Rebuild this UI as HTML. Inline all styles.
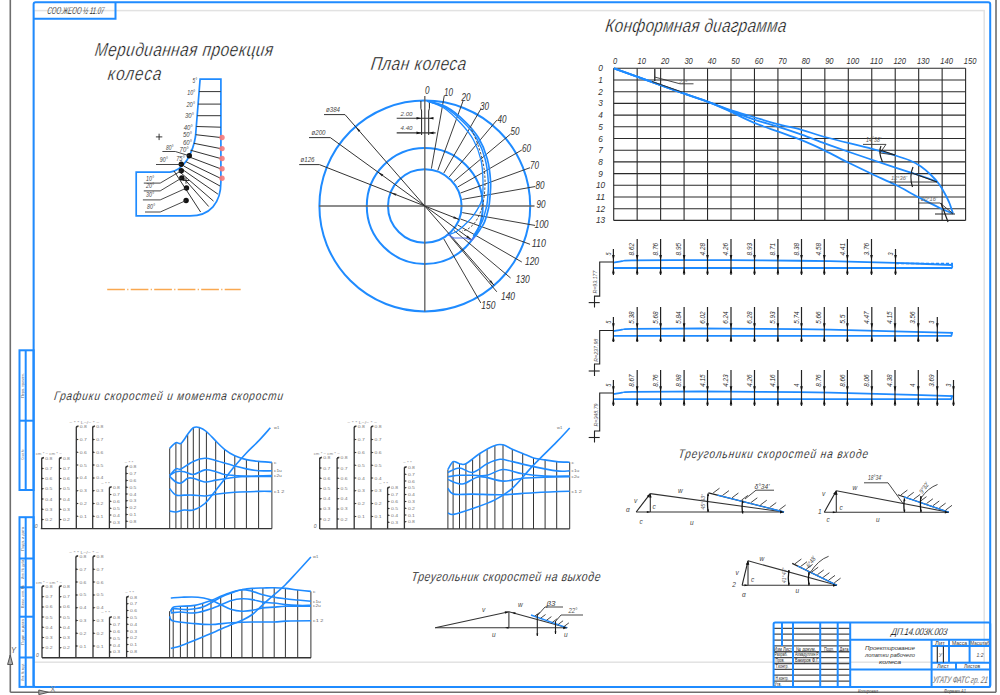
<!DOCTYPE html>
<html><head><meta charset="utf-8"><style>
html,body{margin:0;padding:0;background:#fff;width:1000px;height:695px;overflow:hidden}
svg{display:block}
text{font-family:"Liberation Sans",sans-serif}
</style></head><body>
<svg width="1000" height="695" viewBox="0 0 1000 695">
<rect x="0" y="0" width="1000" height="695" fill="#fff"/>
<line x1="10.30" y1="0.00" x2="10.30" y2="692.30" stroke="#6e6e6e" stroke-width="1.6" />
<line x1="10.30" y1="692.30" x2="996.00" y2="692.30" stroke="#6e6e6e" stroke-width="1.6" />
<line x1="996.00" y1="0.00" x2="996.00" y2="692.30" stroke="#6e6e6e" stroke-width="1.6" />
<rect x="34" y="10.6" width="950.2" height="651.6" fill="none" stroke="#e2e2e2" stroke-width="1.5"/>
<rect x="33.6" y="2.3" width="956.6" height="684.6" rx="2" fill="none" stroke="#1f8bff" stroke-width="2"/>
<path d="M33.6,18.7 L115.5,18.7 L115.5,2.3" stroke="#1f8bff" stroke-width="2" fill="none" />
<g transform="translate(47,13.6) skewX(-8) scale(0.8,1)"><text x="0" y="0" font-size="10" fill="#222" font-style="italic" text-anchor="start" textLength="71.2" lengthAdjust="spacingAndGlyphs" stroke="#fff" stroke-width="0.1" paint-order="normal">СОО.ЖЕОО ½ 11.07</text></g>
<rect x="19.5" y="350.3" width="14.1" height="139.7" fill="none" stroke="#1f8bff" stroke-width="2"/>
<line x1="25.70" y1="350.30" x2="25.70" y2="490.00" stroke="#1f8bff" stroke-width="2" />
<line x1="19.50" y1="420.70" x2="33.60" y2="420.70" stroke="#1f8bff" stroke-width="2" />
<rect x="19.5" y="517.2" width="14.1" height="169.69999999999993" fill="none" stroke="#1f8bff" stroke-width="2"/>
<line x1="25.70" y1="517.20" x2="25.70" y2="686.90" stroke="#1f8bff" stroke-width="2" />
<line x1="19.50" y1="558.50" x2="33.60" y2="558.50" stroke="#1f8bff" stroke-width="2" />
<line x1="19.50" y1="587.30" x2="33.60" y2="587.30" stroke="#1f8bff" stroke-width="2" />
<line x1="19.50" y1="616.70" x2="33.60" y2="616.70" stroke="#1f8bff" stroke-width="2" />
<line x1="19.50" y1="657.50" x2="33.60" y2="657.50" stroke="#1f8bff" stroke-width="2" />
<text x="22.6" y="385.5" font-size="4.2" fill="#567" text-anchor="middle" textLength="25" lengthAdjust="spacingAndGlyphs" transform="rotate(-90 22.6 385.5)" dominant-baseline="middle">Перв. примен.</text>
<text x="22.6" y="454.6" font-size="4.2" fill="#567" text-anchor="middle" textLength="10" lengthAdjust="spacingAndGlyphs" transform="rotate(-90 22.6 454.6)" dominant-baseline="middle">Справ. №</text>
<text x="22.6" y="539" font-size="4.2" fill="#567" text-anchor="middle" textLength="24" lengthAdjust="spacingAndGlyphs" transform="rotate(-90 22.6 539)" dominant-baseline="middle">Подп. и дата</text>
<text x="22.6" y="569" font-size="4.2" fill="#567" text-anchor="middle" textLength="20" lengthAdjust="spacingAndGlyphs" transform="rotate(-90 22.6 569)" dominant-baseline="middle">Инв. № дубл.</text>
<text x="22.6" y="596.5" font-size="4.2" fill="#567" text-anchor="middle" textLength="23" lengthAdjust="spacingAndGlyphs" transform="rotate(-90 22.6 596.5)" dominant-baseline="middle">Взам. инв. №</text>
<text x="22.6" y="632" font-size="4.2" fill="#567" text-anchor="middle" textLength="26" lengthAdjust="spacingAndGlyphs" transform="rotate(-90 22.6 632)" dominant-baseline="middle">Подп. и дата</text>
<text x="22.6" y="672" font-size="4.2" fill="#567" text-anchor="middle" textLength="18" lengthAdjust="spacingAndGlyphs" transform="rotate(-90 22.6 672)" dominant-baseline="middle">Инв. № подл.</text>
<path d="M7.6,664.5 L10.2,655 L12.8,664.5 Z" stroke="#555" stroke-width="1" fill="#aaa" />
<text x="11" y="652.7" font-size="8.5" fill="#555" text-anchor="start" font-style="italic" textLength="5" lengthAdjust="spacingAndGlyphs" >Y</text>
<path d="M38.8,690 L48.3,692.3 L38.8,694.6 Z" stroke="#555" stroke-width="1" fill="#aaa" />
<text x="49.9" y="691.5" font-size="8.5" fill="#888" text-anchor="start" textLength="5.5" lengthAdjust="spacingAndGlyphs" >X</text>
<line x1="773.60" y1="628.35" x2="850.20" y2="628.35" stroke="#4a4a4a" stroke-width="1.3" />
<line x1="773.60" y1="634.21" x2="850.20" y2="634.21" stroke="#4a4a4a" stroke-width="1.3" />
<line x1="773.60" y1="640.06" x2="850.20" y2="640.06" stroke="#4a4a4a" stroke-width="1.3" />
<line x1="773.60" y1="645.92" x2="850.20" y2="645.92" stroke="#4a4a4a" stroke-width="1.3" />
<line x1="773.60" y1="651.77" x2="850.20" y2="651.77" stroke="#4a4a4a" stroke-width="1.3" />
<line x1="773.60" y1="657.63" x2="850.20" y2="657.63" stroke="#4a4a4a" stroke-width="1.3" />
<line x1="773.60" y1="663.48" x2="850.20" y2="663.48" stroke="#4a4a4a" stroke-width="1.3" />
<line x1="773.60" y1="669.34" x2="850.20" y2="669.34" stroke="#4a4a4a" stroke-width="1.3" />
<line x1="773.60" y1="675.19" x2="850.20" y2="675.19" stroke="#4a4a4a" stroke-width="1.3" />
<line x1="773.60" y1="681.05" x2="850.20" y2="681.05" stroke="#4a4a4a" stroke-width="1.3" />
<line x1="782.00" y1="622.50" x2="782.00" y2="645.92" stroke="#1f8bff" stroke-width="2" />
<line x1="793.00" y1="622.50" x2="793.00" y2="686.90" stroke="#1f8bff" stroke-width="2" />
<line x1="820.20" y1="622.50" x2="820.20" y2="686.90" stroke="#1f8bff" stroke-width="2" />
<line x1="837.70" y1="622.50" x2="837.70" y2="686.90" stroke="#1f8bff" stroke-width="2" />
<line x1="850.20" y1="622.50" x2="850.20" y2="686.90" stroke="#1f8bff" stroke-width="2" />
<rect x="773.6" y="622.5" width="216.60000000000002" height="64.39999999999998" rx="1.5" fill="none" stroke="#1f8bff" stroke-width="2"/>
<line x1="850.20" y1="639.70" x2="990.20" y2="639.70" stroke="#1f8bff" stroke-width="2" />
<line x1="850.20" y1="669.50" x2="990.20" y2="669.50" stroke="#1f8bff" stroke-width="2" />
<line x1="931.60" y1="639.70" x2="931.60" y2="686.90" stroke="#1f8bff" stroke-width="2" />
<line x1="931.60" y1="645.90" x2="990.20" y2="645.90" stroke="#1f8bff" stroke-width="2" />
<line x1="931.60" y1="662.70" x2="990.20" y2="662.70" stroke="#1f8bff" stroke-width="2" />
<line x1="949.00" y1="639.70" x2="949.00" y2="662.70" stroke="#1f8bff" stroke-width="2" />
<line x1="969.60" y1="639.70" x2="969.60" y2="662.70" stroke="#1f8bff" stroke-width="2" />
<line x1="956.00" y1="662.70" x2="956.00" y2="669.50" stroke="#1f8bff" stroke-width="2" />
<line x1="937.30" y1="646.50" x2="937.30" y2="662.50" stroke="#222" stroke-width="1.1" />
<line x1="943.40" y1="646.50" x2="943.40" y2="662.50" stroke="#222" stroke-width="1.1" />
<g transform="translate(891,635.3) skewX(-8) scale(0.8,1)"><text x="0" y="0" font-size="10" fill="#000" font-style="italic" text-anchor="start" textLength="70.0" lengthAdjust="spacing" stroke="#fff" stroke-width="0.15" paint-order="normal">ДП.14.003К.003</text></g>
<text x="890" y="650" font-size="6" fill="#333" text-anchor="middle" font-style="italic" textLength="50" lengthAdjust="spacingAndGlyphs" >Проектирование</text>
<text x="890" y="657.2" font-size="6" fill="#333" text-anchor="middle" font-style="italic" textLength="50" lengthAdjust="spacingAndGlyphs" >лопатки рабочего</text>
<text x="890" y="664.3" font-size="6" fill="#333" text-anchor="middle" font-style="italic" textLength="22" lengthAdjust="spacingAndGlyphs" >колеса</text>
<text x="940" y="644.8" font-size="5" fill="#333" text-anchor="middle" textLength="10" lengthAdjust="spacingAndGlyphs" >Лит</text>
<text x="959.5" y="644.8" font-size="5" fill="#333" text-anchor="middle" textLength="15" lengthAdjust="spacingAndGlyphs" >Масса</text>
<text x="980" y="644.8" font-size="5" fill="#333" text-anchor="middle" textLength="19" lengthAdjust="spacingAndGlyphs" >Масштаб</text>
<text x="940.3" y="657" font-size="5" fill="#555" text-anchor="middle" font-style="italic" >У</text>
<text x="980" y="656.5" font-size="6" fill="#444" text-anchor="middle" font-style="italic" textLength="7" lengthAdjust="spacingAndGlyphs" >1:2</text>
<text x="943" y="668.3" font-size="5" fill="#333" text-anchor="middle" textLength="12" lengthAdjust="spacingAndGlyphs" >Лист</text>
<text x="972" y="668.3" font-size="5" fill="#333" text-anchor="middle" textLength="16" lengthAdjust="spacingAndGlyphs" >Листов</text>
<g transform="translate(932.5,682.8) skewX(-8) scale(0.8,1)"><text x="0" y="0" font-size="9.5" fill="#222" font-style="italic" text-anchor="start" textLength="68.8" lengthAdjust="spacingAndGlyphs" stroke="#fff" stroke-width="0.25" paint-order="normal">УГАТУ ФАТС гр. 21</text></g>
<text x="868" y="692.5" font-size="5" fill="#444" text-anchor="middle" font-style="italic" textLength="20" lengthAdjust="spacingAndGlyphs" >Копировал</text>
<text x="955" y="692.5" font-size="5" fill="#444" text-anchor="middle" font-style="italic" textLength="22" lengthAdjust="spacingAndGlyphs" >Формат А1</text>
<text x="783" y="650.5" font-size="5.5" fill="#222" text-anchor="middle" textLength="18" lengthAdjust="spacingAndGlyphs" >Изм Лист</text>
<text x="806" y="650.5" font-size="5.5" fill="#222" text-anchor="middle" textLength="20" lengthAdjust="spacingAndGlyphs" >№ докум.</text>
<text x="829" y="650.5" font-size="5.5" fill="#222" text-anchor="middle" textLength="10" lengthAdjust="spacingAndGlyphs" >Подп.</text>
<text x="844" y="650.5" font-size="5.5" fill="#222" text-anchor="middle" textLength="9" lengthAdjust="spacingAndGlyphs" >Дата</text>
<text x="781" y="656.3" font-size="5.5" fill="#222" text-anchor="middle" textLength="13" lengthAdjust="spacingAndGlyphs" >Разраб.</text>
<text x="807" y="656.3" font-size="5.5" fill="#222" text-anchor="middle" textLength="24" lengthAdjust="spacingAndGlyphs" >Ахмадуллин Р.</text>
<text x="780" y="662.2" font-size="5.5" fill="#222" text-anchor="middle" textLength="9" lengthAdjust="spacingAndGlyphs" >Пров.</text>
<text x="807" y="662.2" font-size="5.5" fill="#222" text-anchor="middle" textLength="24" lengthAdjust="spacingAndGlyphs" >Бакиров Ф.Г.</text>
<text x="782" y="668" font-size="5.5" fill="#222" text-anchor="middle" textLength="13" lengthAdjust="spacingAndGlyphs" >Т.контр.</text>
<text x="782" y="679.7" font-size="5.5" fill="#222" text-anchor="middle" textLength="13" lengthAdjust="spacingAndGlyphs" >Н.контр.</text>
<text x="778" y="685.5" font-size="5.5" fill="#222" text-anchor="middle" textLength="7" lengthAdjust="spacingAndGlyphs" >Утв.</text>
<g transform="translate(94.3,56.2) skewX(-8) scale(0.8,1)"><text x="0" y="0" font-size="19" fill="#000" font-style="italic" text-anchor="start" textLength="222.5" lengthAdjust="spacing" stroke="#fff" stroke-width="0.4" paint-order="normal">Меридианная проекция</text></g>
<g transform="translate(107.3,80.4) skewX(-8) scale(0.8,1)"><text x="0" y="0" font-size="19" fill="#000" font-style="italic" text-anchor="start" textLength="66.9" lengthAdjust="spacing" stroke="#fff" stroke-width="0.4" paint-order="normal">колеса</text></g>
<path d="M136.2,172.1 L170,172.1 C178,171 183,166 187,160 C191,153.5 194,146 195.5,136.5 L200.1,79.1 L220.9,79.1 L220.9,182 C220.9,203 210,215.9 190,215.9 L136.2,215.9 Z" stroke="#1f8bff" stroke-width="1.7" fill="none" />
<line x1="199.10" y1="91.60" x2="220.60" y2="91.60" stroke="#333" stroke-width="1" />
<line x1="198.20" y1="104.10" x2="220.60" y2="104.10" stroke="#333" stroke-width="1" />
<line x1="197.30" y1="115.70" x2="220.60" y2="115.70" stroke="#333" stroke-width="1" />
<line x1="196.40" y1="126.50" x2="220.60" y2="127.20" stroke="#333" stroke-width="1" />
<line x1="195.70" y1="134.70" x2="220.60" y2="137.50" stroke="#333" stroke-width="1" />
<line x1="193.80" y1="143.30" x2="220.60" y2="148.60" stroke="#333" stroke-width="1" />
<line x1="190.50" y1="150.20" x2="220.60" y2="158.50" stroke="#333" stroke-width="1" />
<line x1="187.50" y1="156.30" x2="220.60" y2="168.80" stroke="#333" stroke-width="1" />
<line x1="186.00" y1="161.70" x2="220.60" y2="178.30" stroke="#333" stroke-width="1" />
<line x1="183.80" y1="166.00" x2="220.00" y2="186.00" stroke="#333" stroke-width="1" />
<line x1="182.50" y1="169.50" x2="217.90" y2="194.10" stroke="#333" stroke-width="1" />
<line x1="181.00" y1="173.00" x2="213.50" y2="201.10" stroke="#333" stroke-width="1" />
<line x1="183.50" y1="178.00" x2="208.70" y2="206.50" stroke="#333" stroke-width="1" />
<line x1="174.00" y1="171.00" x2="200.60" y2="212.00" stroke="#333" stroke-width="1" />
<circle cx="222" cy="137.5" r="2.7" fill="#f77a7a" opacity="0.9"/>
<circle cx="222" cy="148.6" r="2.7" fill="#f77a7a" opacity="0.9"/>
<circle cx="222" cy="158.5" r="2.7" fill="#f77a7a" opacity="0.9"/>
<circle cx="222" cy="168.8" r="2.7" fill="#f77a7a" opacity="0.9"/>
<circle cx="222" cy="178.3" r="2.7" fill="#f77a7a" opacity="0.9"/>
<circle cx="189.3" cy="155.8" r="2.7" fill="#111"/>
<circle cx="181.3" cy="164.3" r="2.7" fill="#111"/>
<circle cx="181.3" cy="170.7" r="2.7" fill="#111"/>
<circle cx="181.8" cy="177.9" r="2.7" fill="#111"/>
<circle cx="186.5" cy="188" r="2.7" fill="#111"/>
<circle cx="186.1" cy="200.5" r="2.7" fill="#111"/>
<path d="M162.4,151.5 L175.3,151.5 L189.3,155.8" stroke="#333" stroke-width="0.9" fill="none" />
<path d="M156.0,164.5 L181.3,164.5" stroke="#333" stroke-width="0.9" fill="none" />
<path d="M143.8,183.1 L160.2,183.1 L181.3,170.7" stroke="#333" stroke-width="0.9" fill="none" />
<path d="M143.8,190.9 L160.2,190.9 L181.8,177.9" stroke="#333" stroke-width="0.9" fill="none" />
<path d="M142.9,199.9 L160.2,199.9 L186.5,188.0" stroke="#333" stroke-width="0.9" fill="none" />
<path d="M145.0,212.0 L160.2,212.0 L186.1,200.5" stroke="#333" stroke-width="0.9" fill="none" />
<line x1="155.90" y1="136.90" x2="162.30" y2="136.90" stroke="#222" stroke-width="0.9" />
<line x1="159.10" y1="133.70" x2="159.10" y2="140.10" stroke="#222" stroke-width="0.9" />
<line x1="182.80" y1="180.50" x2="189.20" y2="180.50" stroke="#222" stroke-width="0.9" />
<line x1="186.00" y1="177.30" x2="186.00" y2="183.70" stroke="#222" stroke-width="0.9" />
<text x="192.6" y="82.5" font-size="6.5" fill="#444" text-anchor="start" font-style="italic" textLength="4.5" lengthAdjust="spacingAndGlyphs" >5°</text>
<text x="187.2" y="94.8" font-size="6.5" fill="#444" text-anchor="start" font-style="italic" textLength="8" lengthAdjust="spacingAndGlyphs" >10°</text>
<text x="186.5" y="107.2" font-size="6.5" fill="#444" text-anchor="start" font-style="italic" textLength="8.5" lengthAdjust="spacingAndGlyphs" >20°</text>
<text x="185" y="118" font-size="6.5" fill="#444" text-anchor="start" font-style="italic" textLength="9" lengthAdjust="spacingAndGlyphs" >30°</text>
<text x="183.7" y="129.6" font-size="6.5" fill="#444" text-anchor="start" font-style="italic" textLength="9" lengthAdjust="spacingAndGlyphs" >40°</text>
<text x="183" y="137.2" font-size="6.5" fill="#444" text-anchor="start" font-style="italic" textLength="9" lengthAdjust="spacingAndGlyphs" >50°</text>
<text x="183" y="145.4" font-size="6.5" fill="#444" text-anchor="start" font-style="italic" textLength="9" lengthAdjust="spacingAndGlyphs" >60°</text>
<text x="179.6" y="152.3" font-size="6.5" fill="#444" text-anchor="start" font-style="italic" textLength="9" lengthAdjust="spacingAndGlyphs" >70°</text>
<text x="166" y="149.5" font-size="6.5" fill="#444" text-anchor="start" font-style="italic" textLength="7.5" lengthAdjust="spacingAndGlyphs" >80°</text>
<text x="159.8" y="162" font-size="6.5" fill="#444" text-anchor="start" font-style="italic" textLength="8" lengthAdjust="spacingAndGlyphs" >90°</text>
<text x="176.2" y="161" font-size="6.5" fill="#444" text-anchor="start" font-style="italic" textLength="8.5" lengthAdjust="spacingAndGlyphs" >75°</text>
<text x="146" y="180.5" font-size="6.5" fill="#444" text-anchor="start" font-style="italic" textLength="8" lengthAdjust="spacingAndGlyphs" >10°</text>
<text x="146" y="188" font-size="6.5" fill="#444" text-anchor="start" font-style="italic" textLength="8" lengthAdjust="spacingAndGlyphs" >20°</text>
<text x="146" y="197" font-size="6.5" fill="#444" text-anchor="start" font-style="italic" textLength="8" lengthAdjust="spacingAndGlyphs" >30°</text>
<text x="147" y="208.8" font-size="6.5" fill="#444" text-anchor="start" font-style="italic" textLength="8" lengthAdjust="spacingAndGlyphs" >80°</text>
<line x1="107.20" y1="289.50" x2="240.70" y2="289.50" stroke="#f9a850" stroke-width="1.4" stroke-dasharray="17.7,2.3,1.2,2.3"/>
<g transform="translate(370.2,70.2) skewX(-8) scale(0.8,1)"><text x="0" y="0" font-size="19" fill="#000" font-style="italic" text-anchor="start" textLength="119.2" lengthAdjust="spacing" stroke="#fff" stroke-width="0.4" paint-order="normal">План колеса</text></g>
<circle cx="424.8" cy="206.0" r="105.4" fill="none" stroke="#1f8bff" stroke-width="2"/>
<circle cx="424.8" cy="206.0" r="58" fill="none" stroke="#1f8bff" stroke-width="2"/>
<circle cx="424.8" cy="206.0" r="36.8" fill="none" stroke="#1f8bff" stroke-width="2"/>
<line x1="319.00" y1="206.00" x2="534.50" y2="206.00" stroke="#666" stroke-width="1.4" />
<line x1="424.80" y1="96.00" x2="424.80" y2="311.60" stroke="#666" stroke-width="1.4" />
<line x1="431.40" y1="168.58" x2="444.25" y2="95.70" stroke="#333" stroke-width="0.95" />
<line x1="437.80" y1="170.29" x2="463.11" y2="100.75" stroke="#333" stroke-width="0.95" />
<line x1="443.80" y1="173.09" x2="480.80" y2="109.01" stroke="#333" stroke-width="0.95" />
<line x1="449.23" y1="176.89" x2="496.79" y2="120.20" stroke="#333" stroke-width="0.95" />
<line x1="453.91" y1="181.57" x2="510.60" y2="134.01" stroke="#333" stroke-width="0.95" />
<line x1="457.71" y1="187.00" x2="521.79" y2="150.00" stroke="#333" stroke-width="0.95" />
<line x1="460.51" y1="193.00" x2="530.05" y2="167.69" stroke="#333" stroke-width="0.95" />
<line x1="462.22" y1="199.40" x2="535.10" y2="186.55" stroke="#333" stroke-width="0.95" />
<line x1="462.22" y1="212.60" x2="535.10" y2="225.45" stroke="#333" stroke-width="0.95" />
<line x1="460.51" y1="219.00" x2="530.05" y2="244.31" stroke="#333" stroke-width="0.95" />
<line x1="457.71" y1="225.00" x2="521.79" y2="262.00" stroke="#333" stroke-width="0.95" />
<line x1="453.91" y1="230.43" x2="510.60" y2="277.99" stroke="#333" stroke-width="0.95" />
<line x1="449.23" y1="235.11" x2="496.79" y2="291.80" stroke="#333" stroke-width="0.95" />
<line x1="443.80" y1="238.91" x2="480.80" y2="302.99" stroke="#333" stroke-width="0.95" />
<text x="427.3" y="94.3" font-size="10.5" fill="#333" text-anchor="middle" font-style="italic" textLength="4.5" lengthAdjust="spacingAndGlyphs" >0</text>
<text x="448.5" y="96.3" font-size="10.5" fill="#333" text-anchor="middle" font-style="italic" textLength="9.0" lengthAdjust="spacingAndGlyphs" >10</text>
<text x="466" y="101.4" font-size="10.5" fill="#333" text-anchor="middle" font-style="italic" textLength="9.0" lengthAdjust="spacingAndGlyphs" >20</text>
<text x="484.5" y="110.1" font-size="10.5" fill="#333" text-anchor="middle" font-style="italic" textLength="9.0" lengthAdjust="spacingAndGlyphs" >30</text>
<text x="502" y="122.6" font-size="10.5" fill="#333" text-anchor="middle" font-style="italic" textLength="9.0" lengthAdjust="spacingAndGlyphs" >40</text>
<text x="515" y="135.2" font-size="10.5" fill="#333" text-anchor="middle" font-style="italic" textLength="9.0" lengthAdjust="spacingAndGlyphs" >50</text>
<text x="526.5" y="151.9" font-size="10.5" fill="#333" text-anchor="middle" font-style="italic" textLength="9.0" lengthAdjust="spacingAndGlyphs" >60</text>
<text x="534.6" y="169.4" font-size="10.5" fill="#333" text-anchor="middle" font-style="italic" textLength="9.0" lengthAdjust="spacingAndGlyphs" >70</text>
<text x="540" y="189.4" font-size="10.5" fill="#333" text-anchor="middle" font-style="italic" textLength="9.0" lengthAdjust="spacingAndGlyphs" >80</text>
<text x="541" y="208.2" font-size="10.5" fill="#333" text-anchor="middle" font-style="italic" textLength="9.0" lengthAdjust="spacingAndGlyphs" >90</text>
<text x="541.5" y="227.8" font-size="10.5" fill="#333" text-anchor="middle" font-style="italic" textLength="14.100000000000001" lengthAdjust="spacingAndGlyphs" >100</text>
<text x="538.8" y="246.6" font-size="10.5" fill="#333" text-anchor="middle" font-style="italic" textLength="14.100000000000001" lengthAdjust="spacingAndGlyphs" >110</text>
<text x="532" y="265.4" font-size="10.5" fill="#333" text-anchor="middle" font-style="italic" textLength="14.100000000000001" lengthAdjust="spacingAndGlyphs" >120</text>
<text x="522.7" y="282.9" font-size="10.5" fill="#333" text-anchor="middle" font-style="italic" textLength="14.100000000000001" lengthAdjust="spacingAndGlyphs" >130</text>
<text x="508" y="299.6" font-size="10.5" fill="#333" text-anchor="middle" font-style="italic" textLength="14.100000000000001" lengthAdjust="spacingAndGlyphs" >140</text>
<text x="488.3" y="309.2" font-size="10.5" fill="#333" text-anchor="middle" font-style="italic" textLength="14.100000000000001" lengthAdjust="spacingAndGlyphs" >150</text>
<line x1="324.00" y1="114.60" x2="345.00" y2="114.60" stroke="#333" stroke-width="1" />
<line x1="345.00" y1="114.60" x2="494.12" y2="285.40" stroke="#333" stroke-width="1" />
<text x="333" y="111.5" font-size="6.5" fill="#444" text-anchor="middle" font-style="italic" textLength="14" lengthAdjust="spacingAndGlyphs" >ø384</text>
<path d="M355.5,126.6 L358.6,131.8 L360.3,130.4 Z" fill="#222"/>
<path d="M494.1,285.4 L489.3,281.6 L491.0,280.2 Z" fill="#222"/>
<line x1="309.00" y1="137.60" x2="330.30" y2="137.60" stroke="#333" stroke-width="1" />
<line x1="330.30" y1="137.60" x2="471.78" y2="240.01" stroke="#333" stroke-width="1" />
<text x="318.5" y="134.5" font-size="6.5" fill="#444" text-anchor="middle" font-style="italic" textLength="14" lengthAdjust="spacingAndGlyphs" >ø200</text>
<path d="M377.8,172.0 L382.0,176.4 L383.3,174.6 Z" fill="#222"/>
<path d="M471.8,240.0 L466.3,237.4 L467.6,235.6 Z" fill="#222"/>
<line x1="299.20" y1="164.60" x2="319.40" y2="164.60" stroke="#333" stroke-width="1" />
<line x1="319.40" y1="164.60" x2="459.05" y2="219.45" stroke="#333" stroke-width="1" />
<text x="307.5" y="161.5" font-size="6.5" fill="#444" text-anchor="middle" font-style="italic" textLength="14" lengthAdjust="spacingAndGlyphs" >ø126</text>
<path d="M390.5,192.5 L395.7,195.8 L396.5,193.7 Z" fill="#222"/>
<path d="M459.1,219.5 L453.1,218.3 L453.9,216.2 Z" fill="#222"/>
<path d="M420.9,101 L420.9,108.3 L421.6,111 L421.6,135" stroke="#222" stroke-width="1.0" fill="none" />
<path d="M429.4,101 L429.4,108.3 L428.7,111 L428.7,135" stroke="#222" stroke-width="1.0" fill="none" />
<line x1="396.70" y1="118.20" x2="433.00" y2="118.20" stroke="#333" stroke-width="1.1" />
<line x1="396.70" y1="132.90" x2="435.60" y2="132.90" stroke="#333" stroke-width="1.1" />
<path d="M421.3,118.2 L416.5,116.9 L416.5,119.5 Z M429,118.2 L433.5,116.9 L433.5,119.5 Z M421.3,132.9 L416.5,131.6 L416.5,134.2 Z M429,132.9 L433.5,131.6 L433.5,134.2 Z" fill="#111"/>
<text x="406.5" y="115.5" font-size="5.5" fill="#555" text-anchor="middle" font-style="italic" textLength="12" lengthAdjust="spacingAndGlyphs" >2.00</text>
<text x="406.5" y="130" font-size="5.5" fill="#555" text-anchor="middle" font-style="italic" textLength="12" lengthAdjust="spacingAndGlyphs" >4.40</text>
<path d="M427.3,101.1 C430.4,102.0 439.7,103.4 446.0,106.8 C452.3,110.2 459.6,116.3 465.0,121.5 C470.4,126.7 474.8,131.6 478.5,137.8 C482.2,144.0 485.2,151.3 487.2,158.6 C489.2,165.9 490.2,174.8 490.6,181.7 C491.0,188.6 490.0,195.6 489.7,200.0 C489.4,204.4 489.4,204.4 488.6,208.0 C487.8,211.6 486.1,218.1 484.7,221.6 C483.3,225.1 482.0,226.3 480.4,228.8 C478.8,231.3 476.1,235.3 475.3,236.6" stroke="#1f8bff" stroke-width="1.7" fill="none" />
<path d="M427.3,101.1 C430.2,102.1 439.0,103.9 445.0,107.4 C451.0,110.9 458.2,117.1 463.5,122.3 C468.8,127.5 473.2,132.4 476.8,138.6 C480.4,144.8 483.3,152.0 485.2,159.2 C487.1,166.4 487.9,174.9 488.3,181.7 C488.7,188.5 487.9,195.6 487.5,200.0 C487.1,204.4 487.1,204.5 486.2,208.0 C485.3,211.5 483.8,217.6 482.4,221.0 C481.0,224.4 479.5,226.1 478.0,228.6 C476.5,231.1 474.1,234.8 473.3,236.0" stroke="#1f8bff" stroke-width="1.5" fill="none" />
<path d="M427.3,101.1 C430.1,102.2 438.4,104.3 444.0,108.0 C449.6,111.7 456.1,118.2 461.0,123.5 C465.9,128.8 470.2,133.9 473.5,140.0 C476.8,146.1 479.4,153.1 481.0,160.0 C482.6,166.9 482.9,175.0 483.0,181.7 C483.1,188.4 483.3,194.4 481.8,200.0 C480.3,205.6 476.7,210.8 473.8,215.0 C470.9,219.2 467.4,222.2 464.5,225.0 C461.6,227.8 459.4,229.8 456.6,231.5 C453.9,233.2 449.4,234.4 448.0,235.0" stroke="#1f8bff" stroke-width="1.3" fill="none" />
<path d="M470.0,126.0 C471.3,129.2 475.8,138.5 478.0,145.0 C480.2,151.5 482.3,158.3 483.5,165.0 C484.7,171.7 485.2,178.2 485.0,185.0 C484.8,191.8 484.0,200.0 482.5,206.0 C481.0,212.0 478.4,217.2 476.0,221.0 C473.6,224.8 470.3,227.3 468.0,229.0 C465.7,230.7 463.0,230.7 462.0,231.0" stroke="#444" stroke-width="0.9" fill="none" stroke-dasharray="2.5,1.5"/>
<path d="M448.0,234.4 L453.7,238.0 L465.2,238.0 L471.7,240.2 L475.3,236.6" stroke="#5577ee" stroke-width="1.2" fill="none" />
<g transform="translate(604.8,31.7) skewX(-8) scale(0.8,1)"><text x="0" y="0" font-size="19" fill="#000" font-style="italic" text-anchor="start" textLength="226.2" lengthAdjust="spacing" stroke="#fff" stroke-width="0.4" paint-order="normal">Конформная диаграмма</text></g>
<line x1="613.70" y1="68.30" x2="613.70" y2="220.40" stroke="#2a2a2a" stroke-width="1.1" />
<line x1="637.16" y1="68.30" x2="637.16" y2="220.40" stroke="#2a2a2a" stroke-width="1.1" />
<line x1="660.62" y1="68.30" x2="660.62" y2="220.40" stroke="#2a2a2a" stroke-width="1.1" />
<line x1="684.08" y1="68.30" x2="684.08" y2="220.40" stroke="#2a2a2a" stroke-width="1.1" />
<line x1="707.54" y1="68.30" x2="707.54" y2="220.40" stroke="#2a2a2a" stroke-width="1.1" />
<line x1="731.00" y1="68.30" x2="731.00" y2="220.40" stroke="#2a2a2a" stroke-width="1.1" />
<line x1="754.46" y1="68.30" x2="754.46" y2="220.40" stroke="#2a2a2a" stroke-width="1.1" />
<line x1="777.92" y1="68.30" x2="777.92" y2="220.40" stroke="#2a2a2a" stroke-width="1.1" />
<line x1="801.38" y1="68.30" x2="801.38" y2="220.40" stroke="#2a2a2a" stroke-width="1.1" />
<line x1="824.84" y1="68.30" x2="824.84" y2="220.40" stroke="#2a2a2a" stroke-width="1.1" />
<line x1="848.30" y1="68.30" x2="848.30" y2="220.40" stroke="#2a2a2a" stroke-width="1.1" />
<line x1="871.76" y1="68.30" x2="871.76" y2="220.40" stroke="#2a2a2a" stroke-width="1.1" />
<line x1="895.22" y1="68.30" x2="895.22" y2="220.40" stroke="#2a2a2a" stroke-width="1.1" />
<line x1="918.68" y1="68.30" x2="918.68" y2="220.40" stroke="#2a2a2a" stroke-width="1.1" />
<line x1="942.14" y1="68.30" x2="942.14" y2="220.40" stroke="#2a2a2a" stroke-width="1.1" />
<line x1="965.60" y1="68.30" x2="965.60" y2="220.40" stroke="#2a2a2a" stroke-width="1.1" />
<line x1="613.70" y1="68.30" x2="965.60" y2="68.30" stroke="#2a2a2a" stroke-width="1.1" />
<line x1="613.70" y1="80.00" x2="965.60" y2="80.00" stroke="#2a2a2a" stroke-width="1.1" />
<line x1="613.70" y1="91.70" x2="965.60" y2="91.70" stroke="#2a2a2a" stroke-width="1.1" />
<line x1="613.70" y1="103.40" x2="965.60" y2="103.40" stroke="#2a2a2a" stroke-width="1.1" />
<line x1="613.70" y1="115.10" x2="965.60" y2="115.10" stroke="#2a2a2a" stroke-width="1.1" />
<line x1="613.70" y1="126.80" x2="965.60" y2="126.80" stroke="#2a2a2a" stroke-width="1.1" />
<line x1="613.70" y1="138.50" x2="965.60" y2="138.50" stroke="#2a2a2a" stroke-width="1.1" />
<line x1="613.70" y1="150.20" x2="965.60" y2="150.20" stroke="#2a2a2a" stroke-width="1.1" />
<line x1="613.70" y1="161.90" x2="965.60" y2="161.90" stroke="#2a2a2a" stroke-width="1.1" />
<line x1="613.70" y1="173.60" x2="965.60" y2="173.60" stroke="#2a2a2a" stroke-width="1.1" />
<line x1="613.70" y1="185.30" x2="965.60" y2="185.30" stroke="#2a2a2a" stroke-width="1.1" />
<line x1="613.70" y1="197.00" x2="965.60" y2="197.00" stroke="#2a2a2a" stroke-width="1.1" />
<line x1="613.70" y1="208.70" x2="965.60" y2="208.70" stroke="#2a2a2a" stroke-width="1.1" />
<line x1="613.70" y1="220.40" x2="965.60" y2="220.40" stroke="#2a2a2a" stroke-width="1.1" />
<text x="615.2" y="63.5" font-size="8.5" fill="#333" text-anchor="middle" font-style="italic" textLength="4.2" lengthAdjust="spacingAndGlyphs" >0</text>
<text x="641.6600000000001" y="63.5" font-size="8.5" fill="#333" text-anchor="middle" font-style="italic" textLength="8.4" lengthAdjust="spacingAndGlyphs" >10</text>
<text x="665.12" y="63.5" font-size="8.5" fill="#333" text-anchor="middle" font-style="italic" textLength="8.4" lengthAdjust="spacingAndGlyphs" >20</text>
<text x="688.58" y="63.5" font-size="8.5" fill="#333" text-anchor="middle" font-style="italic" textLength="8.4" lengthAdjust="spacingAndGlyphs" >30</text>
<text x="712.0400000000001" y="63.5" font-size="8.5" fill="#333" text-anchor="middle" font-style="italic" textLength="8.4" lengthAdjust="spacingAndGlyphs" >40</text>
<text x="735.5" y="63.5" font-size="8.5" fill="#333" text-anchor="middle" font-style="italic" textLength="8.4" lengthAdjust="spacingAndGlyphs" >50</text>
<text x="758.96" y="63.5" font-size="8.5" fill="#333" text-anchor="middle" font-style="italic" textLength="8.4" lengthAdjust="spacingAndGlyphs" >60</text>
<text x="782.4200000000001" y="63.5" font-size="8.5" fill="#333" text-anchor="middle" font-style="italic" textLength="8.4" lengthAdjust="spacingAndGlyphs" >70</text>
<text x="805.8800000000001" y="63.5" font-size="8.5" fill="#333" text-anchor="middle" font-style="italic" textLength="8.4" lengthAdjust="spacingAndGlyphs" >80</text>
<text x="829.34" y="63.5" font-size="8.5" fill="#333" text-anchor="middle" font-style="italic" textLength="8.4" lengthAdjust="spacingAndGlyphs" >90</text>
<text x="852.8000000000001" y="63.5" font-size="8.5" fill="#333" text-anchor="middle" font-style="italic" textLength="12.600000000000001" lengthAdjust="spacingAndGlyphs" >100</text>
<text x="876.26" y="63.5" font-size="8.5" fill="#333" text-anchor="middle" font-style="italic" textLength="12.600000000000001" lengthAdjust="spacingAndGlyphs" >110</text>
<text x="899.72" y="63.5" font-size="8.5" fill="#333" text-anchor="middle" font-style="italic" textLength="12.600000000000001" lengthAdjust="spacingAndGlyphs" >120</text>
<text x="923.1800000000001" y="63.5" font-size="8.5" fill="#333" text-anchor="middle" font-style="italic" textLength="12.600000000000001" lengthAdjust="spacingAndGlyphs" >130</text>
<text x="946.6400000000001" y="63.5" font-size="8.5" fill="#333" text-anchor="middle" font-style="italic" textLength="12.600000000000001" lengthAdjust="spacingAndGlyphs" >140</text>
<text x="970.1000000000001" y="63.5" font-size="8.5" fill="#333" text-anchor="middle" font-style="italic" textLength="12.600000000000001" lengthAdjust="spacingAndGlyphs" >150</text>
<text x="600.5" y="71.3" font-size="8.5" fill="#333" text-anchor="middle" font-style="italic" textLength="4.6" lengthAdjust="spacingAndGlyphs" >0</text>
<text x="600.5" y="83.0" font-size="8.5" fill="#333" text-anchor="middle" font-style="italic" textLength="4.6" lengthAdjust="spacingAndGlyphs" >1</text>
<text x="600.5" y="94.69999999999999" font-size="8.5" fill="#333" text-anchor="middle" font-style="italic" textLength="4.6" lengthAdjust="spacingAndGlyphs" >2</text>
<text x="600.5" y="106.39999999999999" font-size="8.5" fill="#333" text-anchor="middle" font-style="italic" textLength="4.6" lengthAdjust="spacingAndGlyphs" >3</text>
<text x="600.5" y="118.1" font-size="8.5" fill="#333" text-anchor="middle" font-style="italic" textLength="4.6" lengthAdjust="spacingAndGlyphs" >4</text>
<text x="600.5" y="129.8" font-size="8.5" fill="#333" text-anchor="middle" font-style="italic" textLength="4.6" lengthAdjust="spacingAndGlyphs" >5</text>
<text x="600.5" y="141.5" font-size="8.5" fill="#333" text-anchor="middle" font-style="italic" textLength="4.6" lengthAdjust="spacingAndGlyphs" >6</text>
<text x="600.5" y="153.2" font-size="8.5" fill="#333" text-anchor="middle" font-style="italic" textLength="4.6" lengthAdjust="spacingAndGlyphs" >7</text>
<text x="600.5" y="164.89999999999998" font-size="8.5" fill="#333" text-anchor="middle" font-style="italic" textLength="4.6" lengthAdjust="spacingAndGlyphs" >8</text>
<text x="600.5" y="176.6" font-size="8.5" fill="#333" text-anchor="middle" font-style="italic" textLength="4.6" lengthAdjust="spacingAndGlyphs" >9</text>
<text x="600.5" y="188.3" font-size="8.5" fill="#333" text-anchor="middle" font-style="italic" textLength="9.2" lengthAdjust="spacingAndGlyphs" >10</text>
<text x="600.5" y="200.0" font-size="8.5" fill="#333" text-anchor="middle" font-style="italic" textLength="9.2" lengthAdjust="spacingAndGlyphs" >11</text>
<text x="600.5" y="211.7" font-size="8.5" fill="#333" text-anchor="middle" font-style="italic" textLength="9.2" lengthAdjust="spacingAndGlyphs" >12</text>
<text x="600.5" y="223.39999999999998" font-size="8.5" fill="#333" text-anchor="middle" font-style="italic" textLength="9.2" lengthAdjust="spacingAndGlyphs" >13</text>
<path d="M614.0,68.3 C625.0,72.3 664.3,86.6 680.0,92.2 C695.7,97.8 699.7,98.6 708.0,101.8 C716.3,105.0 722.4,107.9 730.0,111.4 C737.6,114.9 745.7,119.3 753.6,122.6 C761.5,125.9 769.6,128.5 777.6,131.4 C785.6,134.3 793.7,137.0 801.6,140.2 C809.5,143.4 817.1,146.9 824.8,150.6 C832.5,154.3 839.8,158.4 847.7,162.3 C855.6,166.2 864.0,170.2 872.0,174.0 C880.0,177.8 887.6,180.9 895.4,184.8 C903.2,188.7 911.3,193.5 918.8,197.4 C926.3,201.3 934.7,205.5 940.4,208.2 C946.1,210.9 950.9,212.7 953.0,213.6" stroke="#1f8bff" stroke-width="1.8" fill="none" />
<path d="M614.0,68.3 C625.0,72.3 664.3,86.6 680.0,92.2 C695.7,97.8 699.7,98.7 708.0,101.8 C716.3,104.9 722.4,107.7 730.0,110.6 C737.6,113.5 745.7,116.7 753.6,119.4 C761.5,122.1 769.6,124.1 777.6,126.6 C785.6,129.1 793.7,131.8 801.6,134.6 C809.5,137.4 817.1,140.6 824.8,143.4 C832.5,146.2 835.9,147.4 847.7,151.5 C859.5,155.6 884.1,163.9 895.4,167.7 C906.6,171.4 908.3,171.7 915.2,174.0 C922.1,176.3 933.4,180.2 937.0,181.5" stroke="#1f8bff" stroke-width="1.8" fill="none" />
<path d="M614.0,68.3 C625.0,72.3 664.3,86.6 680.0,92.2 C695.7,97.8 699.7,98.9 708.0,101.8 C716.3,104.7 722.4,107.3 730.0,109.8 C737.6,112.3 745.7,114.6 753.6,117.0 C761.5,119.4 769.6,122.1 777.6,124.2 C785.6,126.3 793.7,127.7 801.6,129.8 C809.5,131.9 813.1,133.8 824.8,137.0 C836.5,140.2 860.2,145.7 872.0,148.8 C883.8,151.9 889.1,153.6 895.4,155.5 C901.7,157.4 905.7,158.7 910.0,160.5 C914.3,162.3 917.5,164.1 921.0,166.5 C924.5,168.9 928.0,172.1 931.0,175.0 C934.0,177.9 936.8,181.0 939.0,184.0 C941.2,187.0 942.8,189.8 944.5,193.0 C946.2,196.2 948.0,199.6 949.4,203.0 C950.8,206.4 952.4,211.8 953.0,213.6" stroke="#1f8bff" stroke-width="1.8" fill="none" />
<line x1="652.00" y1="81.50" x2="682.00" y2="92.00" stroke="#333" stroke-width="1" />
<line x1="654.80" y1="69.00" x2="654.80" y2="81.00" stroke="#222" stroke-width="1.3" />
<path d="M654.5,77.0 L680.0,83.8 L693.5,83.8" stroke="#333" stroke-width="0.9" fill="none" />
<text x="683" y="83.5" font-size="6" fill="#666" text-anchor="middle" font-style="italic" textLength="9" lengthAdjust="spacingAndGlyphs" >22°</text>
<path d="M863.0,144.4 L886.0,144.4 L880.0,153.0 L895.0,155.0" stroke="#333" stroke-width="0.9" fill="none" />
<line x1="880.00" y1="150.00" x2="895.00" y2="155.00" stroke="#222" stroke-width="1.2" />
<path d="M881,146 Q878,152 882.5,162" stroke="#222" stroke-width="1.2" fill="none" />
<text x="873.5" y="141.5" font-size="6.5" fill="#555" text-anchor="middle" font-style="italic" textLength="15" lengthAdjust="spacingAndGlyphs" >14°38'</text>
<path d="M890.0,182.0 L910.0,182.0 L937.0,182.0" stroke="#333" stroke-width="0.9" fill="none" />
<line x1="912.00" y1="173.00" x2="937.00" y2="182.00" stroke="#222" stroke-width="1.2" />
<path d="M913,167 Q909,176 912.5,187" stroke="#222" stroke-width="1.2" fill="none" />
<text x="899" y="179.5" font-size="6" fill="#666" text-anchor="middle" font-style="italic" textLength="16" lengthAdjust="spacingAndGlyphs" >12°36'</text>
<path d="M918.0,203.0 L940.0,203.0 L953.0,213.6" stroke="#333" stroke-width="0.9" fill="none" />
<text x="929" y="200.5" font-size="6" fill="#666" text-anchor="middle" font-style="italic" textLength="16" lengthAdjust="spacingAndGlyphs" >20°16'</text>
<line x1="935.00" y1="214.00" x2="955.00" y2="214.00" stroke="#222" stroke-width="1" />
<line x1="941.00" y1="203.00" x2="948.00" y2="222.00" stroke="#222" stroke-width="1.2" />
<path d="M614.0,262.6 C615.3,262.4 619.0,261.6 622.0,261.2 C625.0,260.8 619.0,260.6 632.0,260.4 C645.0,260.2 678.7,260.1 700.0,260.1 C721.3,260.1 738.3,260.2 760.0,260.4 C781.7,260.6 807.5,260.8 830.0,261.2 C852.5,261.6 874.5,262.3 895.0,262.9 C915.5,263.5 943.3,264.6 953.0,265.0" stroke="#1f8bff" stroke-width="1.8" fill="none" />
<line x1="614.00" y1="268.00" x2="952.00" y2="268.00" stroke="#1f8bff" stroke-width="1.8" />
<path d="M951,264.5 A2.2,2.2 0 0 1 951,268.5" stroke="#1f8bff" stroke-width="1.8" fill="none"/>
<line x1="613.40" y1="249.00" x2="613.40" y2="275.00" stroke="#222" stroke-width="1.2" />
<path d="M613.4,260.4 L612.1,254.9 L614.7,254.9 Z" fill="#111"/>
<path d="M613.4,268.0 L612.1,273.5 L614.7,273.5 Z" fill="#111"/>
<text x="610.6" y="255.39999999999998" font-size="6.5" fill="#333" text-anchor="start" font-style="italic" textLength="3.1" lengthAdjust="spacingAndGlyphs" transform="rotate(-90 610.6 255.39999999999998)" >5</text>
<line x1="637.20" y1="239.00" x2="637.20" y2="275.00" stroke="#222" stroke-width="1.2" />
<path d="M637.2,260.4 L635.9,254.9 L638.5,254.9 Z" fill="#111"/>
<path d="M637.2,268.0 L635.9,273.5 L638.5,273.5 Z" fill="#111"/>
<text x="634.4000000000001" y="255.39999999999998" font-size="6.5" fill="#333" text-anchor="start" font-style="italic" textLength="12.4" lengthAdjust="spacingAndGlyphs" transform="rotate(-90 634.4000000000001 255.39999999999998)" >8.62</text>
<line x1="660.60" y1="239.00" x2="660.60" y2="275.00" stroke="#222" stroke-width="1.2" />
<path d="M660.6,260.4 L659.3,254.9 L661.9,254.9 Z" fill="#111"/>
<path d="M660.6,268.0 L659.3,273.5 L661.9,273.5 Z" fill="#111"/>
<text x="657.8000000000001" y="255.39999999999998" font-size="6.5" fill="#333" text-anchor="start" font-style="italic" textLength="12.4" lengthAdjust="spacingAndGlyphs" transform="rotate(-90 657.8000000000001 255.39999999999998)" >8.76</text>
<line x1="684.10" y1="239.00" x2="684.10" y2="275.00" stroke="#222" stroke-width="1.2" />
<path d="M684.1,260.4 L682.8,254.9 L685.4,254.9 Z" fill="#111"/>
<path d="M684.1,268.0 L682.8,273.5 L685.4,273.5 Z" fill="#111"/>
<text x="681.3000000000001" y="255.39999999999998" font-size="6.5" fill="#333" text-anchor="start" font-style="italic" textLength="12.4" lengthAdjust="spacingAndGlyphs" transform="rotate(-90 681.3000000000001 255.39999999999998)" >8.95</text>
<line x1="707.50" y1="239.00" x2="707.50" y2="275.00" stroke="#222" stroke-width="1.2" />
<path d="M707.5,260.4 L706.2,254.9 L708.8,254.9 Z" fill="#111"/>
<path d="M707.5,268.0 L706.2,273.5 L708.8,273.5 Z" fill="#111"/>
<text x="704.7" y="255.39999999999998" font-size="6.5" fill="#333" text-anchor="start" font-style="italic" textLength="12.4" lengthAdjust="spacingAndGlyphs" transform="rotate(-90 704.7 255.39999999999998)" >4.28</text>
<line x1="731.00" y1="239.00" x2="731.00" y2="275.00" stroke="#222" stroke-width="1.2" />
<path d="M731.0,260.4 L729.7,254.9 L732.3,254.9 Z" fill="#111"/>
<path d="M731.0,268.0 L729.7,273.5 L732.3,273.5 Z" fill="#111"/>
<text x="728.2" y="255.39999999999998" font-size="6.5" fill="#333" text-anchor="start" font-style="italic" textLength="12.4" lengthAdjust="spacingAndGlyphs" transform="rotate(-90 728.2 255.39999999999998)" >4.26</text>
<line x1="754.50" y1="239.00" x2="754.50" y2="275.00" stroke="#222" stroke-width="1.2" />
<path d="M754.5,260.4 L753.2,254.9 L755.8,254.9 Z" fill="#111"/>
<path d="M754.5,268.0 L753.2,273.5 L755.8,273.5 Z" fill="#111"/>
<text x="751.7" y="255.39999999999998" font-size="6.5" fill="#333" text-anchor="start" font-style="italic" textLength="12.4" lengthAdjust="spacingAndGlyphs" transform="rotate(-90 751.7 255.39999999999998)" >8.93</text>
<line x1="777.90" y1="239.00" x2="777.90" y2="275.00" stroke="#222" stroke-width="1.2" />
<path d="M777.9,260.4 L776.6,254.9 L779.2,254.9 Z" fill="#111"/>
<path d="M777.9,268.0 L776.6,273.5 L779.2,273.5 Z" fill="#111"/>
<text x="775.1" y="255.39999999999998" font-size="6.5" fill="#333" text-anchor="start" font-style="italic" textLength="12.4" lengthAdjust="spacingAndGlyphs" transform="rotate(-90 775.1 255.39999999999998)" >8.71</text>
<line x1="801.50" y1="239.00" x2="801.50" y2="275.00" stroke="#222" stroke-width="1.2" />
<path d="M801.5,260.4 L800.2,254.9 L802.8,254.9 Z" fill="#111"/>
<path d="M801.5,268.0 L800.2,273.5 L802.8,273.5 Z" fill="#111"/>
<text x="798.7" y="255.39999999999998" font-size="6.5" fill="#333" text-anchor="start" font-style="italic" textLength="12.4" lengthAdjust="spacingAndGlyphs" transform="rotate(-90 798.7 255.39999999999998)" >8.38</text>
<line x1="824.30" y1="239.00" x2="824.30" y2="275.00" stroke="#222" stroke-width="1.2" />
<path d="M824.3,260.4 L823.0,254.9 L825.6,254.9 Z" fill="#111"/>
<path d="M824.3,268.0 L823.0,273.5 L825.6,273.5 Z" fill="#111"/>
<text x="821.5" y="255.39999999999998" font-size="6.5" fill="#333" text-anchor="start" font-style="italic" textLength="12.4" lengthAdjust="spacingAndGlyphs" transform="rotate(-90 821.5 255.39999999999998)" >4.58</text>
<line x1="847.40" y1="239.00" x2="847.40" y2="275.00" stroke="#222" stroke-width="1.2" />
<path d="M847.4,260.4 L846.1,254.9 L848.7,254.9 Z" fill="#111"/>
<path d="M847.4,268.0 L846.1,273.5 L848.7,273.5 Z" fill="#111"/>
<text x="844.6" y="255.39999999999998" font-size="6.5" fill="#333" text-anchor="start" font-style="italic" textLength="12.4" lengthAdjust="spacingAndGlyphs" transform="rotate(-90 844.6 255.39999999999998)" >4.41</text>
<line x1="871.50" y1="239.00" x2="871.50" y2="275.00" stroke="#222" stroke-width="1.2" />
<path d="M871.5,260.4 L870.2,254.9 L872.8,254.9 Z" fill="#111"/>
<path d="M871.5,268.0 L870.2,273.5 L872.8,273.5 Z" fill="#111"/>
<text x="868.7" y="255.39999999999998" font-size="6.5" fill="#333" text-anchor="start" font-style="italic" textLength="12.4" lengthAdjust="spacingAndGlyphs" transform="rotate(-90 868.7 255.39999999999998)" >3.76</text>
<line x1="895.50" y1="249.00" x2="895.50" y2="275.00" stroke="#222" stroke-width="1.2" />
<path d="M895.5,260.4 L894.2,254.9 L896.8,254.9 Z" fill="#111"/>
<path d="M895.5,268.0 L894.2,273.5 L896.8,273.5 Z" fill="#111"/>
<text x="892.7" y="255.39999999999998" font-size="6.5" fill="#333" text-anchor="start" font-style="italic" textLength="3.1" lengthAdjust="spacingAndGlyphs" transform="rotate(-90 892.7 255.39999999999998)" >3</text>
<path d="M614.0,262.0 L599.7,262.0 L599.7,296.1 L594.5,296.1 L594.5,307.6" stroke="#222" stroke-width="1.1" fill="none" />
<line x1="588.70" y1="302.60" x2="599.70" y2="302.60" stroke="#222" stroke-width="1.1" />
<text x="597.5" y="282.05" font-size="6" fill="#555" text-anchor="middle" font-style="italic" textLength="23" lengthAdjust="spacingAndGlyphs" transform="rotate(-90 597.5 282.05)" >R=93.177</text>
<path d="M614.0,331.0 C615.3,330.8 619.0,330.0 622.0,329.6 C625.0,329.2 619.0,329.0 632.0,328.8 C645.0,328.6 678.7,328.5 700.0,328.5 C721.3,328.5 738.3,328.6 760.0,328.8 C781.7,329.0 807.5,329.2 830.0,329.6 C852.5,330.0 874.5,330.8 895.0,331.3 C915.5,331.8 943.3,332.6 953.0,332.8" stroke="#1f8bff" stroke-width="1.8" fill="none" />
<line x1="614.00" y1="335.80" x2="951.50" y2="335.80" stroke="#1f8bff" stroke-width="1.8" />
<path d="M950.5,332.3 A2.2,2.2 0 0 1 950.5,336.3" stroke="#1f8bff" stroke-width="1.8" fill="none"/>
<line x1="613.40" y1="317.00" x2="613.40" y2="342.00" stroke="#222" stroke-width="1.2" />
<path d="M613.4,328.8 L612.1,323.3 L614.7,323.3 Z" fill="#111"/>
<path d="M613.4,335.8 L612.1,341.3 L614.7,341.3 Z" fill="#111"/>
<text x="610.6" y="323.8" font-size="6.5" fill="#333" text-anchor="start" font-style="italic" textLength="3.1" lengthAdjust="spacingAndGlyphs" transform="rotate(-90 610.6 323.8)" >5</text>
<line x1="637.20" y1="307.00" x2="637.20" y2="342.00" stroke="#222" stroke-width="1.2" />
<path d="M637.2,328.8 L635.9,323.3 L638.5,323.3 Z" fill="#111"/>
<path d="M637.2,335.8 L635.9,341.3 L638.5,341.3 Z" fill="#111"/>
<text x="634.4000000000001" y="323.8" font-size="6.5" fill="#333" text-anchor="start" font-style="italic" textLength="12.4" lengthAdjust="spacingAndGlyphs" transform="rotate(-90 634.4000000000001 323.8)" >5.38</text>
<line x1="660.60" y1="307.00" x2="660.60" y2="342.00" stroke="#222" stroke-width="1.2" />
<path d="M660.6,328.8 L659.3,323.3 L661.9,323.3 Z" fill="#111"/>
<path d="M660.6,335.8 L659.3,341.3 L661.9,341.3 Z" fill="#111"/>
<text x="657.8000000000001" y="323.8" font-size="6.5" fill="#333" text-anchor="start" font-style="italic" textLength="12.4" lengthAdjust="spacingAndGlyphs" transform="rotate(-90 657.8000000000001 323.8)" >5.68</text>
<line x1="684.10" y1="307.00" x2="684.10" y2="342.00" stroke="#222" stroke-width="1.2" />
<path d="M684.1,328.8 L682.8,323.3 L685.4,323.3 Z" fill="#111"/>
<path d="M684.1,335.8 L682.8,341.3 L685.4,341.3 Z" fill="#111"/>
<text x="681.3000000000001" y="323.8" font-size="6.5" fill="#333" text-anchor="start" font-style="italic" textLength="12.4" lengthAdjust="spacingAndGlyphs" transform="rotate(-90 681.3000000000001 323.8)" >5.84</text>
<line x1="707.50" y1="307.00" x2="707.50" y2="342.00" stroke="#222" stroke-width="1.2" />
<path d="M707.5,328.8 L706.2,323.3 L708.8,323.3 Z" fill="#111"/>
<path d="M707.5,335.8 L706.2,341.3 L708.8,341.3 Z" fill="#111"/>
<text x="704.7" y="323.8" font-size="6.5" fill="#333" text-anchor="start" font-style="italic" textLength="12.4" lengthAdjust="spacingAndGlyphs" transform="rotate(-90 704.7 323.8)" >6.02</text>
<line x1="731.00" y1="307.00" x2="731.00" y2="342.00" stroke="#222" stroke-width="1.2" />
<path d="M731.0,328.8 L729.7,323.3 L732.3,323.3 Z" fill="#111"/>
<path d="M731.0,335.8 L729.7,341.3 L732.3,341.3 Z" fill="#111"/>
<text x="728.2" y="323.8" font-size="6.5" fill="#333" text-anchor="start" font-style="italic" textLength="12.4" lengthAdjust="spacingAndGlyphs" transform="rotate(-90 728.2 323.8)" >6.24</text>
<line x1="754.50" y1="307.00" x2="754.50" y2="342.00" stroke="#222" stroke-width="1.2" />
<path d="M754.5,328.8 L753.2,323.3 L755.8,323.3 Z" fill="#111"/>
<path d="M754.5,335.8 L753.2,341.3 L755.8,341.3 Z" fill="#111"/>
<text x="751.7" y="323.8" font-size="6.5" fill="#333" text-anchor="start" font-style="italic" textLength="12.4" lengthAdjust="spacingAndGlyphs" transform="rotate(-90 751.7 323.8)" >6.28</text>
<line x1="777.90" y1="307.00" x2="777.90" y2="342.00" stroke="#222" stroke-width="1.2" />
<path d="M777.9,328.8 L776.6,323.3 L779.2,323.3 Z" fill="#111"/>
<path d="M777.9,335.8 L776.6,341.3 L779.2,341.3 Z" fill="#111"/>
<text x="775.1" y="323.8" font-size="6.5" fill="#333" text-anchor="start" font-style="italic" textLength="12.4" lengthAdjust="spacingAndGlyphs" transform="rotate(-90 775.1 323.8)" >5.93</text>
<line x1="801.50" y1="307.00" x2="801.50" y2="342.00" stroke="#222" stroke-width="1.2" />
<path d="M801.5,328.8 L800.2,323.3 L802.8,323.3 Z" fill="#111"/>
<path d="M801.5,335.8 L800.2,341.3 L802.8,341.3 Z" fill="#111"/>
<text x="798.7" y="323.8" font-size="6.5" fill="#333" text-anchor="start" font-style="italic" textLength="12.4" lengthAdjust="spacingAndGlyphs" transform="rotate(-90 798.7 323.8)" >5.74</text>
<line x1="824.30" y1="307.00" x2="824.30" y2="342.00" stroke="#222" stroke-width="1.2" />
<path d="M824.3,328.8 L823.0,323.3 L825.6,323.3 Z" fill="#111"/>
<path d="M824.3,335.8 L823.0,341.3 L825.6,341.3 Z" fill="#111"/>
<text x="821.5" y="323.8" font-size="6.5" fill="#333" text-anchor="start" font-style="italic" textLength="12.4" lengthAdjust="spacingAndGlyphs" transform="rotate(-90 821.5 323.8)" >5.66</text>
<line x1="847.40" y1="307.00" x2="847.40" y2="342.00" stroke="#222" stroke-width="1.2" />
<path d="M847.4,328.8 L846.1,323.3 L848.7,323.3 Z" fill="#111"/>
<path d="M847.4,335.8 L846.1,341.3 L848.7,341.3 Z" fill="#111"/>
<text x="844.6" y="323.8" font-size="6.5" fill="#333" text-anchor="start" font-style="italic" textLength="9.3" lengthAdjust="spacingAndGlyphs" transform="rotate(-90 844.6 323.8)" >5.5</text>
<line x1="871.80" y1="307.00" x2="871.80" y2="342.00" stroke="#222" stroke-width="1.2" />
<path d="M871.8,328.8 L870.5,323.3 L873.1,323.3 Z" fill="#111"/>
<path d="M871.8,335.8 L870.5,341.3 L873.1,341.3 Z" fill="#111"/>
<text x="869.0" y="323.8" font-size="6.5" fill="#333" text-anchor="start" font-style="italic" textLength="12.4" lengthAdjust="spacingAndGlyphs" transform="rotate(-90 869.0 323.8)" >4.47</text>
<line x1="895.00" y1="307.00" x2="895.00" y2="342.00" stroke="#222" stroke-width="1.2" />
<path d="M895.0,328.8 L893.7,323.3 L896.3,323.3 Z" fill="#111"/>
<path d="M895.0,335.8 L893.7,341.3 L896.3,341.3 Z" fill="#111"/>
<text x="892.2" y="323.8" font-size="6.5" fill="#333" text-anchor="start" font-style="italic" textLength="12.4" lengthAdjust="spacingAndGlyphs" transform="rotate(-90 892.2 323.8)" >4.15</text>
<line x1="918.30" y1="307.00" x2="918.30" y2="342.00" stroke="#222" stroke-width="1.2" />
<path d="M918.3,328.8 L917.0,323.3 L919.6,323.3 Z" fill="#111"/>
<path d="M918.3,335.8 L917.0,341.3 L919.6,341.3 Z" fill="#111"/>
<text x="915.5" y="323.8" font-size="6.5" fill="#333" text-anchor="start" font-style="italic" textLength="12.4" lengthAdjust="spacingAndGlyphs" transform="rotate(-90 915.5 323.8)" >3.56</text>
<line x1="937.30" y1="317.00" x2="937.30" y2="342.00" stroke="#222" stroke-width="1.2" />
<path d="M937.3,328.8 L936.0,323.3 L938.6,323.3 Z" fill="#111"/>
<path d="M937.3,335.8 L936.0,341.3 L938.6,341.3 Z" fill="#111"/>
<text x="934.5" y="323.8" font-size="6.5" fill="#333" text-anchor="start" font-style="italic" textLength="3.1" lengthAdjust="spacingAndGlyphs" transform="rotate(-90 934.5 323.8)" >3</text>
<path d="M614.0,330.5 L599.7,330.5 L599.7,364.0 L594.5,364.0 L594.5,376.0" stroke="#222" stroke-width="1.1" fill="none" />
<line x1="588.70" y1="371.00" x2="599.70" y2="371.00" stroke="#222" stroke-width="1.1" />
<text x="597.5" y="350.25" font-size="6" fill="#555" text-anchor="middle" font-style="italic" textLength="23" lengthAdjust="spacingAndGlyphs" transform="rotate(-90 597.5 350.25)" >R=237.98</text>
<path d="M614.0,394.0 C615.3,393.8 619.0,393.0 622.0,392.6 C625.0,392.2 619.0,392.0 632.0,391.8 C645.0,391.6 678.7,391.5 700.0,391.5 C721.3,391.5 738.3,391.6 760.0,391.8 C781.7,392.0 807.5,392.2 830.0,392.6 C852.5,393.0 874.5,393.7 895.0,394.3 C915.5,394.9 943.3,395.8 953.0,396.1" stroke="#1f8bff" stroke-width="1.8" fill="none" />
<line x1="614.00" y1="399.10" x2="951.50" y2="399.10" stroke="#1f8bff" stroke-width="1.8" />
<path d="M950.5,395.6 A2.2,2.2 0 0 1 950.5,399.6" stroke="#1f8bff" stroke-width="1.8" fill="none"/>
<line x1="613.40" y1="380.00" x2="613.40" y2="406.00" stroke="#222" stroke-width="1.2" />
<path d="M613.4,391.8 L612.1,386.3 L614.7,386.3 Z" fill="#111"/>
<path d="M613.4,399.1 L612.1,404.6 L614.7,404.6 Z" fill="#111"/>
<text x="610.6" y="386.8" font-size="6.5" fill="#333" text-anchor="start" font-style="italic" textLength="3.1" lengthAdjust="spacingAndGlyphs" transform="rotate(-90 610.6 386.8)" >5</text>
<line x1="637.20" y1="370.00" x2="637.20" y2="406.00" stroke="#222" stroke-width="1.2" />
<path d="M637.2,391.8 L635.9,386.3 L638.5,386.3 Z" fill="#111"/>
<path d="M637.2,399.1 L635.9,404.6 L638.5,404.6 Z" fill="#111"/>
<text x="634.4000000000001" y="386.8" font-size="6.5" fill="#333" text-anchor="start" font-style="italic" textLength="12.4" lengthAdjust="spacingAndGlyphs" transform="rotate(-90 634.4000000000001 386.8)" >8.67</text>
<line x1="660.60" y1="370.00" x2="660.60" y2="406.00" stroke="#222" stroke-width="1.2" />
<path d="M660.6,391.8 L659.3,386.3 L661.9,386.3 Z" fill="#111"/>
<path d="M660.6,399.1 L659.3,404.6 L661.9,404.6 Z" fill="#111"/>
<text x="657.8000000000001" y="386.8" font-size="6.5" fill="#333" text-anchor="start" font-style="italic" textLength="12.4" lengthAdjust="spacingAndGlyphs" transform="rotate(-90 657.8000000000001 386.8)" >8.76</text>
<line x1="684.10" y1="370.00" x2="684.10" y2="406.00" stroke="#222" stroke-width="1.2" />
<path d="M684.1,391.8 L682.8,386.3 L685.4,386.3 Z" fill="#111"/>
<path d="M684.1,399.1 L682.8,404.6 L685.4,404.6 Z" fill="#111"/>
<text x="681.3000000000001" y="386.8" font-size="6.5" fill="#333" text-anchor="start" font-style="italic" textLength="12.4" lengthAdjust="spacingAndGlyphs" transform="rotate(-90 681.3000000000001 386.8)" >8.98</text>
<line x1="707.50" y1="370.00" x2="707.50" y2="406.00" stroke="#222" stroke-width="1.2" />
<path d="M707.5,391.8 L706.2,386.3 L708.8,386.3 Z" fill="#111"/>
<path d="M707.5,399.1 L706.2,404.6 L708.8,404.6 Z" fill="#111"/>
<text x="704.7" y="386.8" font-size="6.5" fill="#333" text-anchor="start" font-style="italic" textLength="12.4" lengthAdjust="spacingAndGlyphs" transform="rotate(-90 704.7 386.8)" >4.15</text>
<line x1="731.00" y1="370.00" x2="731.00" y2="406.00" stroke="#222" stroke-width="1.2" />
<path d="M731.0,391.8 L729.7,386.3 L732.3,386.3 Z" fill="#111"/>
<path d="M731.0,399.1 L729.7,404.6 L732.3,404.6 Z" fill="#111"/>
<text x="728.2" y="386.8" font-size="6.5" fill="#333" text-anchor="start" font-style="italic" textLength="12.4" lengthAdjust="spacingAndGlyphs" transform="rotate(-90 728.2 386.8)" >4.23</text>
<line x1="754.50" y1="370.00" x2="754.50" y2="406.00" stroke="#222" stroke-width="1.2" />
<path d="M754.5,391.8 L753.2,386.3 L755.8,386.3 Z" fill="#111"/>
<path d="M754.5,399.1 L753.2,404.6 L755.8,404.6 Z" fill="#111"/>
<text x="751.7" y="386.8" font-size="6.5" fill="#333" text-anchor="start" font-style="italic" textLength="12.4" lengthAdjust="spacingAndGlyphs" transform="rotate(-90 751.7 386.8)" >4.26</text>
<line x1="777.90" y1="370.00" x2="777.90" y2="406.00" stroke="#222" stroke-width="1.2" />
<path d="M777.9,391.8 L776.6,386.3 L779.2,386.3 Z" fill="#111"/>
<path d="M777.9,399.1 L776.6,404.6 L779.2,404.6 Z" fill="#111"/>
<text x="775.1" y="386.8" font-size="6.5" fill="#333" text-anchor="start" font-style="italic" textLength="12.4" lengthAdjust="spacingAndGlyphs" transform="rotate(-90 775.1 386.8)" >4.16</text>
<line x1="801.50" y1="370.00" x2="801.50" y2="406.00" stroke="#222" stroke-width="1.2" />
<path d="M801.5,391.8 L800.2,386.3 L802.8,386.3 Z" fill="#111"/>
<path d="M801.5,399.1 L800.2,404.6 L802.8,404.6 Z" fill="#111"/>
<text x="798.7" y="386.8" font-size="6.5" fill="#333" text-anchor="start" font-style="italic" textLength="3.1" lengthAdjust="spacingAndGlyphs" transform="rotate(-90 798.7 386.8)" >4</text>
<line x1="824.30" y1="370.00" x2="824.30" y2="406.00" stroke="#222" stroke-width="1.2" />
<path d="M824.3,391.8 L823.0,386.3 L825.6,386.3 Z" fill="#111"/>
<path d="M824.3,399.1 L823.0,404.6 L825.6,404.6 Z" fill="#111"/>
<text x="821.5" y="386.8" font-size="6.5" fill="#333" text-anchor="start" font-style="italic" textLength="12.4" lengthAdjust="spacingAndGlyphs" transform="rotate(-90 821.5 386.8)" >8.76</text>
<line x1="847.40" y1="370.00" x2="847.40" y2="406.00" stroke="#222" stroke-width="1.2" />
<path d="M847.4,391.8 L846.1,386.3 L848.7,386.3 Z" fill="#111"/>
<path d="M847.4,399.1 L846.1,404.6 L848.7,404.6 Z" fill="#111"/>
<text x="844.6" y="386.8" font-size="6.5" fill="#333" text-anchor="start" font-style="italic" textLength="12.4" lengthAdjust="spacingAndGlyphs" transform="rotate(-90 844.6 386.8)" >8.66</text>
<line x1="871.80" y1="370.00" x2="871.80" y2="406.00" stroke="#222" stroke-width="1.2" />
<path d="M871.8,391.8 L870.5,386.3 L873.1,386.3 Z" fill="#111"/>
<path d="M871.8,399.1 L870.5,404.6 L873.1,404.6 Z" fill="#111"/>
<text x="869.0" y="386.8" font-size="6.5" fill="#333" text-anchor="start" font-style="italic" textLength="12.4" lengthAdjust="spacingAndGlyphs" transform="rotate(-90 869.0 386.8)" >8.06</text>
<line x1="895.00" y1="370.00" x2="895.00" y2="406.00" stroke="#222" stroke-width="1.2" />
<path d="M895.0,391.8 L893.7,386.3 L896.3,386.3 Z" fill="#111"/>
<path d="M895.0,399.1 L893.7,404.6 L896.3,404.6 Z" fill="#111"/>
<text x="892.2" y="386.8" font-size="6.5" fill="#333" text-anchor="start" font-style="italic" textLength="12.4" lengthAdjust="spacingAndGlyphs" transform="rotate(-90 892.2 386.8)" >4.38</text>
<line x1="918.30" y1="370.00" x2="918.30" y2="406.00" stroke="#222" stroke-width="1.2" />
<path d="M918.3,391.8 L917.0,386.3 L919.6,386.3 Z" fill="#111"/>
<path d="M918.3,399.1 L917.0,404.6 L919.6,404.6 Z" fill="#111"/>
<text x="915.5" y="386.8" font-size="6.5" fill="#333" text-anchor="start" font-style="italic" textLength="3.1" lengthAdjust="spacingAndGlyphs" transform="rotate(-90 915.5 386.8)" >4</text>
<line x1="937.30" y1="370.00" x2="937.30" y2="406.00" stroke="#222" stroke-width="1.2" />
<path d="M937.3,391.8 L936.0,386.3 L938.6,386.3 Z" fill="#111"/>
<path d="M937.3,399.1 L936.0,404.6 L938.6,404.6 Z" fill="#111"/>
<text x="934.5" y="386.8" font-size="6.5" fill="#333" text-anchor="start" font-style="italic" textLength="12.4" lengthAdjust="spacingAndGlyphs" transform="rotate(-90 934.5 386.8)" >3.69</text>
<line x1="953.50" y1="380.00" x2="953.50" y2="406.00" stroke="#222" stroke-width="1.2" />
<path d="M953.5,391.8 L952.2,386.3 L954.8,386.3 Z" fill="#111"/>
<path d="M953.5,399.1 L952.2,404.6 L954.8,404.6 Z" fill="#111"/>
<text x="950.7" y="386.8" font-size="6.5" fill="#333" text-anchor="start" font-style="italic" textLength="3.1" lengthAdjust="spacingAndGlyphs" transform="rotate(-90 950.7 386.8)" >3</text>
<path d="M614.0,393.0 L599.7,393.0 L599.7,431.0 L594.5,431.0 L594.5,442.5" stroke="#222" stroke-width="1.1" fill="none" />
<line x1="588.70" y1="437.50" x2="599.70" y2="437.50" stroke="#222" stroke-width="1.1" />
<text x="597.5" y="415.0" font-size="6" fill="#555" text-anchor="middle" font-style="italic" textLength="23" lengthAdjust="spacingAndGlyphs" transform="rotate(-90 597.5 415.0)" >R=348.79</text>
<line x1="896.00" y1="263.50" x2="953.00" y2="263.50" stroke="#1f8bff" stroke-width="1.6" stroke-dasharray="3,2"/>
<g transform="translate(53.75,400) skewX(-8) scale(0.8,1)"><text x="0" y="0" font-size="12.5" fill="#000" font-style="italic" text-anchor="start" textLength="285.9" lengthAdjust="spacing" stroke="#fff" stroke-width="0.2" paint-order="normal">Графики скоростей и момента скорости</text></g>
<line x1="41.70" y1="458.20" x2="41.70" y2="528.60" stroke="#333" stroke-width="1.3" />
<line x1="41.70" y1="458.20" x2="43.90" y2="457.20" stroke="#333" stroke-width="1.1" />
<path d="M41.7,457.2 L44.3,458.2 L41.7,459.2 Z" fill="#333"/>
<text x="45.2" y="459.7" font-size="3.8" fill="#777" text-anchor="start" textLength="7" lengthAdjust="spacingAndGlyphs" >0.8</text>
<path d="M41.7,467.4 L44.3,468.4 L41.7,469.4 Z" fill="#333"/>
<text x="45.2" y="469.9" font-size="3.8" fill="#777" text-anchor="start" textLength="7" lengthAdjust="spacingAndGlyphs" >0.7</text>
<path d="M41.7,477.6 L44.3,478.6 L41.7,479.6 Z" fill="#333"/>
<text x="45.2" y="480.09999999999997" font-size="3.8" fill="#777" text-anchor="start" textLength="7" lengthAdjust="spacingAndGlyphs" >0.6</text>
<path d="M41.7,487.8 L44.3,488.8 L41.7,489.8 Z" fill="#333"/>
<text x="45.2" y="490.3" font-size="3.8" fill="#777" text-anchor="start" textLength="7" lengthAdjust="spacingAndGlyphs" >0.5</text>
<path d="M41.7,498.0 L44.3,499.0 L41.7,500.0 Z" fill="#333"/>
<text x="45.2" y="500.5" font-size="3.8" fill="#777" text-anchor="start" textLength="7" lengthAdjust="spacingAndGlyphs" >0.4</text>
<path d="M41.7,508.2 L44.3,509.2 L41.7,510.2 Z" fill="#333"/>
<text x="45.2" y="510.7" font-size="3.8" fill="#777" text-anchor="start" textLength="7" lengthAdjust="spacingAndGlyphs" >0.3</text>
<path d="M41.7,518.4 L44.3,519.4 L41.7,520.4 Z" fill="#333"/>
<text x="45.2" y="520.9" font-size="3.8" fill="#777" text-anchor="start" textLength="7" lengthAdjust="spacingAndGlyphs" >0.2</text>
<line x1="59.40" y1="458.20" x2="59.40" y2="528.60" stroke="#333" stroke-width="1.3" />
<line x1="59.40" y1="458.20" x2="61.60" y2="457.20" stroke="#333" stroke-width="1.1" />
<path d="M59.4,457.2 L62.0,458.2 L59.4,459.2 Z" fill="#333"/>
<text x="62.9" y="459.7" font-size="3.8" fill="#777" text-anchor="start" textLength="7" lengthAdjust="spacingAndGlyphs" >0.8</text>
<path d="M59.4,467.4 L62.0,468.4 L59.4,469.4 Z" fill="#333"/>
<text x="62.9" y="469.9" font-size="3.8" fill="#777" text-anchor="start" textLength="7" lengthAdjust="spacingAndGlyphs" >0.7</text>
<path d="M59.4,477.6 L62.0,478.6 L59.4,479.6 Z" fill="#333"/>
<text x="62.9" y="480.09999999999997" font-size="3.8" fill="#777" text-anchor="start" textLength="7" lengthAdjust="spacingAndGlyphs" >0.6</text>
<path d="M59.4,487.8 L62.0,488.8 L59.4,489.8 Z" fill="#333"/>
<text x="62.9" y="490.3" font-size="3.8" fill="#777" text-anchor="start" textLength="7" lengthAdjust="spacingAndGlyphs" >0.5</text>
<path d="M59.4,498.0 L62.0,499.0 L59.4,500.0 Z" fill="#333"/>
<text x="62.9" y="500.5" font-size="3.8" fill="#777" text-anchor="start" textLength="7" lengthAdjust="spacingAndGlyphs" >0.4</text>
<path d="M59.4,508.2 L62.0,509.2 L59.4,510.2 Z" fill="#333"/>
<text x="62.9" y="510.7" font-size="3.8" fill="#777" text-anchor="start" textLength="7" lengthAdjust="spacingAndGlyphs" >0.3</text>
<path d="M59.4,518.4 L62.0,519.4 L59.4,520.4 Z" fill="#333"/>
<text x="62.9" y="520.9" font-size="3.8" fill="#777" text-anchor="start" textLength="7" lengthAdjust="spacingAndGlyphs" >0.2</text>
<line x1="76.30" y1="426.70" x2="76.30" y2="528.60" stroke="#333" stroke-width="1.3" />
<line x1="76.30" y1="426.70" x2="78.50" y2="425.70" stroke="#333" stroke-width="1.1" />
<path d="M76.3,425.7 L78.9,426.7 L76.3,427.7 Z" fill="#333"/>
<text x="79.8" y="428.2" font-size="3.8" fill="#777" text-anchor="start" textLength="7" lengthAdjust="spacingAndGlyphs" >0.8</text>
<path d="M76.3,438.5 L78.9,439.5 L76.3,440.5 Z" fill="#333"/>
<text x="79.8" y="441.0" font-size="3.8" fill="#777" text-anchor="start" textLength="7" lengthAdjust="spacingAndGlyphs" >0.7</text>
<path d="M76.3,451.3 L78.9,452.3 L76.3,453.3 Z" fill="#333"/>
<text x="79.8" y="453.8" font-size="3.8" fill="#777" text-anchor="start" textLength="7" lengthAdjust="spacingAndGlyphs" >0.6</text>
<path d="M76.3,464.1 L78.9,465.1 L76.3,466.1 Z" fill="#333"/>
<text x="79.8" y="466.6" font-size="3.8" fill="#777" text-anchor="start" textLength="7" lengthAdjust="spacingAndGlyphs" >0.5</text>
<path d="M76.3,476.9 L78.9,477.9 L76.3,478.9 Z" fill="#333"/>
<text x="79.8" y="479.4" font-size="3.8" fill="#777" text-anchor="start" textLength="7" lengthAdjust="spacingAndGlyphs" >0.4</text>
<path d="M76.3,489.7 L78.9,490.7 L76.3,491.7 Z" fill="#333"/>
<text x="79.8" y="492.2" font-size="3.8" fill="#777" text-anchor="start" textLength="7" lengthAdjust="spacingAndGlyphs" >0.3</text>
<path d="M76.3,502.5 L78.9,503.5 L76.3,504.5 Z" fill="#333"/>
<text x="79.8" y="505.0" font-size="3.8" fill="#777" text-anchor="start" textLength="7" lengthAdjust="spacingAndGlyphs" >0.2</text>
<path d="M76.3,515.3 L78.9,516.3 L76.3,517.3 Z" fill="#333"/>
<text x="79.8" y="517.8" font-size="3.8" fill="#777" text-anchor="start" textLength="7" lengthAdjust="spacingAndGlyphs" >0.1</text>
<line x1="92.70" y1="426.70" x2="92.70" y2="528.60" stroke="#333" stroke-width="1.3" />
<line x1="92.70" y1="426.70" x2="94.90" y2="425.70" stroke="#333" stroke-width="1.1" />
<path d="M92.7,425.7 L95.3,426.7 L92.7,427.7 Z" fill="#333"/>
<text x="96.2" y="428.2" font-size="3.8" fill="#777" text-anchor="start" textLength="7" lengthAdjust="spacingAndGlyphs" >0.8</text>
<path d="M92.7,438.5 L95.3,439.5 L92.7,440.5 Z" fill="#333"/>
<text x="96.2" y="441.0" font-size="3.8" fill="#777" text-anchor="start" textLength="7" lengthAdjust="spacingAndGlyphs" >0.7</text>
<path d="M92.7,451.3 L95.3,452.3 L92.7,453.3 Z" fill="#333"/>
<text x="96.2" y="453.8" font-size="3.8" fill="#777" text-anchor="start" textLength="7" lengthAdjust="spacingAndGlyphs" >0.6</text>
<path d="M92.7,464.1 L95.3,465.1 L92.7,466.1 Z" fill="#333"/>
<text x="96.2" y="466.6" font-size="3.8" fill="#777" text-anchor="start" textLength="7" lengthAdjust="spacingAndGlyphs" >0.5</text>
<path d="M92.7,476.9 L95.3,477.9 L92.7,478.9 Z" fill="#333"/>
<text x="96.2" y="479.4" font-size="3.8" fill="#777" text-anchor="start" textLength="7" lengthAdjust="spacingAndGlyphs" >0.4</text>
<path d="M92.7,489.7 L95.3,490.7 L92.7,491.7 Z" fill="#333"/>
<text x="96.2" y="492.2" font-size="3.8" fill="#777" text-anchor="start" textLength="7" lengthAdjust="spacingAndGlyphs" >0.3</text>
<path d="M92.7,502.5 L95.3,503.5 L92.7,504.5 Z" fill="#333"/>
<text x="96.2" y="505.0" font-size="3.8" fill="#777" text-anchor="start" textLength="7" lengthAdjust="spacingAndGlyphs" >0.2</text>
<path d="M92.7,515.3 L95.3,516.3 L92.7,517.3 Z" fill="#333"/>
<text x="96.2" y="517.8" font-size="3.8" fill="#777" text-anchor="start" textLength="7" lengthAdjust="spacingAndGlyphs" >0.1</text>
<line x1="109.40" y1="487.50" x2="109.40" y2="528.60" stroke="#333" stroke-width="1.3" />
<line x1="109.40" y1="487.50" x2="111.60" y2="486.50" stroke="#333" stroke-width="1.1" />
<path d="M109.4,486.5 L112.0,487.5 L109.4,488.5 Z" fill="#333"/>
<text x="112.9" y="489.0" font-size="3.8" fill="#777" text-anchor="start" textLength="7" lengthAdjust="spacingAndGlyphs" >0.8</text>
<path d="M109.4,493.4 L112.0,494.4 L109.4,495.4 Z" fill="#333"/>
<text x="112.9" y="495.9" font-size="3.8" fill="#777" text-anchor="start" textLength="7" lengthAdjust="spacingAndGlyphs" >0.7</text>
<path d="M109.4,500.3 L112.0,501.3 L109.4,502.3 Z" fill="#333"/>
<text x="112.9" y="502.8" font-size="3.8" fill="#777" text-anchor="start" textLength="7" lengthAdjust="spacingAndGlyphs" >0.6</text>
<path d="M109.4,507.2 L112.0,508.2 L109.4,509.2 Z" fill="#333"/>
<text x="112.9" y="509.7" font-size="3.8" fill="#777" text-anchor="start" textLength="7" lengthAdjust="spacingAndGlyphs" >0.5</text>
<path d="M109.4,514.1 L112.0,515.1 L109.4,516.1 Z" fill="#333"/>
<text x="112.9" y="516.6" font-size="3.8" fill="#777" text-anchor="start" textLength="7" lengthAdjust="spacingAndGlyphs" >0.4</text>
<path d="M109.4,521.0 L112.0,522.0 L109.4,523.0 Z" fill="#333"/>
<text x="112.9" y="523.5" font-size="3.8" fill="#777" text-anchor="start" textLength="7" lengthAdjust="spacingAndGlyphs" >0.3</text>
<line x1="125.90" y1="466.80" x2="125.90" y2="528.60" stroke="#333" stroke-width="1.3" />
<line x1="125.90" y1="466.80" x2="128.10" y2="465.80" stroke="#333" stroke-width="1.1" />
<path d="M125.9,465.8 L128.5,466.8 L125.9,467.8 Z" fill="#333"/>
<text x="129.4" y="468.3" font-size="3.8" fill="#777" text-anchor="start" textLength="7" lengthAdjust="spacingAndGlyphs" >0.8</text>
<path d="M125.9,472.6 L128.5,473.6 L125.9,474.6 Z" fill="#333"/>
<text x="129.4" y="475.1" font-size="3.8" fill="#777" text-anchor="start" textLength="7" lengthAdjust="spacingAndGlyphs" >0.7</text>
<path d="M125.9,479.4 L128.5,480.4 L125.9,481.4 Z" fill="#333"/>
<text x="129.4" y="481.90000000000003" font-size="3.8" fill="#777" text-anchor="start" textLength="7" lengthAdjust="spacingAndGlyphs" >0.6</text>
<path d="M125.9,486.2 L128.5,487.2 L125.9,488.2 Z" fill="#333"/>
<text x="129.4" y="488.7" font-size="3.8" fill="#777" text-anchor="start" textLength="7" lengthAdjust="spacingAndGlyphs" >0.5</text>
<path d="M125.9,493.0 L128.5,494.0 L125.9,495.0 Z" fill="#333"/>
<text x="129.4" y="495.5" font-size="3.8" fill="#777" text-anchor="start" textLength="7" lengthAdjust="spacingAndGlyphs" >0.4</text>
<path d="M125.9,499.8 L128.5,500.8 L125.9,501.8 Z" fill="#333"/>
<text x="129.4" y="502.3" font-size="3.8" fill="#777" text-anchor="start" textLength="7" lengthAdjust="spacingAndGlyphs" >0.3</text>
<path d="M125.9,506.6 L128.5,507.6 L125.9,508.6 Z" fill="#333"/>
<text x="129.4" y="509.1" font-size="3.8" fill="#777" text-anchor="start" textLength="7" lengthAdjust="spacingAndGlyphs" >0.2</text>
<path d="M125.9,513.4 L128.5,514.4 L125.9,515.4 Z" fill="#333"/>
<text x="129.4" y="515.9" font-size="3.8" fill="#777" text-anchor="start" textLength="7" lengthAdjust="spacingAndGlyphs" >0.1</text>
<path d="M125.9,520.2 L128.5,521.2 L125.9,522.2 Z" fill="#333"/>
<text x="129.4" y="522.7" font-size="3.8" fill="#777" text-anchor="start" textLength="7" lengthAdjust="spacingAndGlyphs" >0.8</text>
<text x="48.7" y="455.2" font-size="3.6" fill="#888" text-anchor="middle" textLength="26" lengthAdjust="spacingAndGlyphs" >cm * ~  cm * ~</text>
<text x="84.3" y="423.7" font-size="3.6" fill="#888" text-anchor="middle" textLength="30" lengthAdjust="spacingAndGlyphs" >~ * * L~/~ * ~</text>
<text x="105.4" y="484.5" font-size="3.6" fill="#888" text-anchor="middle" textLength="9" lengthAdjust="spacingAndGlyphs" >~ * *</text>
<text x="128.9" y="463.8" font-size="3.6" fill="#888" text-anchor="middle" textLength="9" lengthAdjust="spacingAndGlyphs" >~ * *</text>
<text x="34.8" y="527.6" font-size="5" fill="#666" text-anchor="start" font-style="italic" >0</text>
<line x1="40.80" y1="528.60" x2="271.90" y2="528.60" stroke="#333" stroke-width="1.4" />
<line x1="169.70" y1="448.30" x2="169.70" y2="528.60" stroke="#333" stroke-width="1.0" />
<line x1="175.90" y1="442.70" x2="175.90" y2="528.60" stroke="#333" stroke-width="1.0" />
<line x1="181.10" y1="443.30" x2="181.10" y2="528.60" stroke="#333" stroke-width="1.0" />
<line x1="187.70" y1="434.30" x2="187.70" y2="528.60" stroke="#333" stroke-width="1.0" />
<line x1="193.30" y1="427.80" x2="193.30" y2="528.60" stroke="#333" stroke-width="1.0" />
<line x1="199.30" y1="427.40" x2="199.30" y2="528.60" stroke="#333" stroke-width="1.0" />
<line x1="206.40" y1="431.50" x2="206.40" y2="528.60" stroke="#333" stroke-width="1.0" />
<line x1="215.70" y1="440.90" x2="215.70" y2="528.60" stroke="#333" stroke-width="1.0" />
<line x1="224.50" y1="449.30" x2="224.50" y2="528.60" stroke="#333" stroke-width="1.0" />
<line x1="234.80" y1="455.80" x2="234.80" y2="528.60" stroke="#333" stroke-width="1.0" />
<line x1="246.40" y1="459.60" x2="246.40" y2="528.60" stroke="#333" stroke-width="1.0" />
<line x1="258.60" y1="461.40" x2="258.60" y2="528.60" stroke="#333" stroke-width="1.0" />
<line x1="271.90" y1="462.40" x2="271.90" y2="528.60" stroke="#333" stroke-width="1.0" />
<path d="M169.7,448.3 C170.7,447.4 174.0,443.5 175.9,442.7 C177.8,441.9 179.1,444.7 181.1,443.3 C183.1,441.9 185.7,436.9 187.7,434.3 C189.7,431.7 191.4,429.0 193.3,427.8 C195.2,426.6 197.1,426.8 199.3,427.4 C201.5,428.0 203.7,429.2 206.4,431.5 C209.1,433.8 212.7,437.9 215.7,440.9 C218.7,443.9 221.3,446.8 224.5,449.3 C227.7,451.8 231.2,454.1 234.8,455.8 C238.5,457.5 242.4,458.7 246.4,459.6 C250.4,460.5 254.4,460.9 258.6,461.4 C262.9,461.9 269.7,462.2 271.9,462.4" stroke="#1f8bff" stroke-width="1.6" fill="none" />
<path d="M169.7,475.5 C170.7,474.4 174.0,470.0 175.9,468.9 C177.8,467.8 178.2,470.1 181.1,468.9 C184.0,467.6 189.3,463.2 193.3,461.4 C197.3,459.6 201.2,458.4 204.9,458.3 C208.6,458.2 210.7,459.2 215.7,460.5 C220.7,461.8 229.7,464.7 234.8,466.1 C239.9,467.5 242.4,468.1 246.4,468.9 C250.4,469.7 254.4,470.5 258.6,470.8 C262.9,471.1 269.7,470.8 271.9,470.8" stroke="#1f8bff" stroke-width="1.6" fill="none" />
<path d="M169.7,475.5 C170.7,474.9 173.5,472.3 175.9,471.7 C178.3,471.1 181.4,471.2 184.3,471.7 C187.2,472.2 189.9,474.8 193.3,474.5 C196.7,474.2 201.2,470.4 204.9,469.9 C208.6,469.4 212.4,470.9 215.7,471.7 C219.0,472.5 221.3,473.9 224.5,474.5 C227.7,475.1 231.2,475.2 234.8,475.5 C238.5,475.8 240.2,476.2 246.4,476.4 C252.6,476.5 267.6,476.4 271.9,476.4" stroke="#1f8bff" stroke-width="1.6" fill="none" />
<path d="M169.7,476.4 C170.7,477.3 174.0,480.9 175.9,482.0 C177.8,483.1 179.1,483.6 181.1,483.0 C183.1,482.4 185.7,479.1 187.7,478.3 C189.7,477.5 190.4,477.7 193.3,478.3 C196.2,478.9 201.2,481.7 204.9,482.0 C208.6,482.3 212.4,480.6 215.7,480.1 C219.0,479.6 221.3,479.3 224.5,478.8 C227.7,478.3 231.2,477.7 234.8,477.3 C238.5,476.9 240.2,476.7 246.4,476.4 C252.6,476.1 267.6,475.6 271.9,475.5" stroke="#1f8bff" stroke-width="1.6" fill="none" />
<path d="M169.7,488.6 C170.7,489.7 173.5,494.0 175.9,495.1 C178.3,496.2 181.4,495.1 184.3,495.1 C187.2,495.1 189.9,495.0 193.3,495.1 C196.7,495.2 201.2,496.1 204.9,496.0 C208.6,495.9 210.7,494.8 215.7,494.2 C220.7,493.6 227.7,492.8 234.8,492.3 C242.0,491.8 252.4,491.5 258.6,491.4 C264.8,491.2 269.7,491.4 271.9,491.4" stroke="#1f8bff" stroke-width="1.6" fill="none" />
<path d="M169.7,511.0 C170.7,511.2 173.5,512.2 175.9,512.0 C178.3,511.8 181.4,510.3 184.3,510.0 C187.2,509.7 189.9,511.1 193.3,510.0 C196.7,508.9 201.2,506.8 204.9,503.5 C208.6,500.2 212.4,494.4 215.7,490.4 C219.0,486.3 221.3,483.2 224.5,479.2 C227.7,475.1 231.2,470.5 234.8,466.1 C238.5,461.7 242.4,457.2 246.4,453.0 C250.4,448.8 254.6,445.1 258.6,440.9 C262.6,436.7 268.4,430.0 270.4,427.8" stroke="#1f8bff" stroke-width="1.6" fill="none" />
<text x="274" y="429" font-size="4" fill="#666" text-anchor="start" textLength="5.2" lengthAdjust="spacingAndGlyphs" >w1</text>
<text x="274" y="463.5" font-size="4" fill="#666" text-anchor="start" textLength="2.6" lengthAdjust="spacingAndGlyphs" >c</text>
<text x="274" y="471.5" font-size="4" fill="#666" text-anchor="start" textLength="7.800000000000001" lengthAdjust="spacingAndGlyphs" >c1u</text>
<text x="274" y="477" font-size="4" fill="#666" text-anchor="start" textLength="7.800000000000001" lengthAdjust="spacingAndGlyphs" >c2u</text>
<text x="274" y="492.5" font-size="4" fill="#666" text-anchor="start" textLength="10.4" lengthAdjust="spacingAndGlyphs" >c1 2</text>
<line x1="319.70" y1="457.90" x2="319.70" y2="528.90" stroke="#333" stroke-width="1.3" />
<line x1="319.70" y1="457.90" x2="321.90" y2="456.90" stroke="#333" stroke-width="1.1" />
<path d="M319.7,456.9 L322.3,457.9 L319.7,458.9 Z" fill="#333"/>
<text x="323.2" y="459.4" font-size="3.8" fill="#777" text-anchor="start" textLength="7" lengthAdjust="spacingAndGlyphs" >0.8</text>
<path d="M319.7,467.1 L322.3,468.1 L319.7,469.1 Z" fill="#333"/>
<text x="323.2" y="469.59999999999997" font-size="3.8" fill="#777" text-anchor="start" textLength="7" lengthAdjust="spacingAndGlyphs" >0.7</text>
<path d="M319.7,477.3 L322.3,478.3 L319.7,479.3 Z" fill="#333"/>
<text x="323.2" y="479.79999999999995" font-size="3.8" fill="#777" text-anchor="start" textLength="7" lengthAdjust="spacingAndGlyphs" >0.6</text>
<path d="M319.7,487.5 L322.3,488.5 L319.7,489.5 Z" fill="#333"/>
<text x="323.2" y="490.0" font-size="3.8" fill="#777" text-anchor="start" textLength="7" lengthAdjust="spacingAndGlyphs" >0.5</text>
<path d="M319.7,497.7 L322.3,498.7 L319.7,499.7 Z" fill="#333"/>
<text x="323.2" y="500.2" font-size="3.8" fill="#777" text-anchor="start" textLength="7" lengthAdjust="spacingAndGlyphs" >0.4</text>
<path d="M319.7,507.9 L322.3,508.9 L319.7,509.9 Z" fill="#333"/>
<text x="323.2" y="510.4" font-size="3.8" fill="#777" text-anchor="start" textLength="7" lengthAdjust="spacingAndGlyphs" >0.3</text>
<path d="M319.7,518.1 L322.3,519.1 L319.7,520.1 Z" fill="#333"/>
<text x="323.2" y="520.6" font-size="3.8" fill="#777" text-anchor="start" textLength="7" lengthAdjust="spacingAndGlyphs" >0.2</text>
<line x1="337.10" y1="457.90" x2="337.10" y2="528.90" stroke="#333" stroke-width="1.3" />
<line x1="337.10" y1="457.90" x2="339.30" y2="456.90" stroke="#333" stroke-width="1.1" />
<path d="M337.1,456.9 L339.7,457.9 L337.1,458.9 Z" fill="#333"/>
<text x="340.6" y="459.4" font-size="3.8" fill="#777" text-anchor="start" textLength="7" lengthAdjust="spacingAndGlyphs" >0.8</text>
<path d="M337.1,467.1 L339.7,468.1 L337.1,469.1 Z" fill="#333"/>
<text x="340.6" y="469.59999999999997" font-size="3.8" fill="#777" text-anchor="start" textLength="7" lengthAdjust="spacingAndGlyphs" >0.7</text>
<path d="M337.1,477.3 L339.7,478.3 L337.1,479.3 Z" fill="#333"/>
<text x="340.6" y="479.79999999999995" font-size="3.8" fill="#777" text-anchor="start" textLength="7" lengthAdjust="spacingAndGlyphs" >0.6</text>
<path d="M337.1,487.5 L339.7,488.5 L337.1,489.5 Z" fill="#333"/>
<text x="340.6" y="490.0" font-size="3.8" fill="#777" text-anchor="start" textLength="7" lengthAdjust="spacingAndGlyphs" >0.5</text>
<path d="M337.1,497.7 L339.7,498.7 L337.1,499.7 Z" fill="#333"/>
<text x="340.6" y="500.2" font-size="3.8" fill="#777" text-anchor="start" textLength="7" lengthAdjust="spacingAndGlyphs" >0.4</text>
<path d="M337.1,507.9 L339.7,508.9 L337.1,509.9 Z" fill="#333"/>
<text x="340.6" y="510.4" font-size="3.8" fill="#777" text-anchor="start" textLength="7" lengthAdjust="spacingAndGlyphs" >0.3</text>
<path d="M337.1,518.1 L339.7,519.1 L337.1,520.1 Z" fill="#333"/>
<text x="340.6" y="520.6" font-size="3.8" fill="#777" text-anchor="start" textLength="7" lengthAdjust="spacingAndGlyphs" >0.2</text>
<line x1="354.20" y1="426.80" x2="354.20" y2="528.90" stroke="#333" stroke-width="1.3" />
<line x1="354.20" y1="426.80" x2="356.40" y2="425.80" stroke="#333" stroke-width="1.1" />
<path d="M354.2,425.8 L356.8,426.8 L354.2,427.8 Z" fill="#333"/>
<text x="357.7" y="428.3" font-size="3.8" fill="#777" text-anchor="start" textLength="7" lengthAdjust="spacingAndGlyphs" >0.8</text>
<path d="M354.2,438.6 L356.8,439.6 L354.2,440.6 Z" fill="#333"/>
<text x="357.7" y="441.1" font-size="3.8" fill="#777" text-anchor="start" textLength="7" lengthAdjust="spacingAndGlyphs" >0.7</text>
<path d="M354.2,451.4 L356.8,452.4 L354.2,453.4 Z" fill="#333"/>
<text x="357.7" y="453.90000000000003" font-size="3.8" fill="#777" text-anchor="start" textLength="7" lengthAdjust="spacingAndGlyphs" >0.6</text>
<path d="M354.2,464.2 L356.8,465.2 L354.2,466.2 Z" fill="#333"/>
<text x="357.7" y="466.70000000000005" font-size="3.8" fill="#777" text-anchor="start" textLength="7" lengthAdjust="spacingAndGlyphs" >0.5</text>
<path d="M354.2,477.0 L356.8,478.0 L354.2,479.0 Z" fill="#333"/>
<text x="357.7" y="479.5" font-size="3.8" fill="#777" text-anchor="start" textLength="7" lengthAdjust="spacingAndGlyphs" >0.4</text>
<path d="M354.2,489.8 L356.8,490.8 L354.2,491.8 Z" fill="#333"/>
<text x="357.7" y="492.3" font-size="3.8" fill="#777" text-anchor="start" textLength="7" lengthAdjust="spacingAndGlyphs" >0.3</text>
<path d="M354.2,502.6 L356.8,503.6 L354.2,504.6 Z" fill="#333"/>
<text x="357.7" y="505.1" font-size="3.8" fill="#777" text-anchor="start" textLength="7" lengthAdjust="spacingAndGlyphs" >0.2</text>
<path d="M354.2,515.4 L356.8,516.4 L354.2,517.4 Z" fill="#333"/>
<text x="357.7" y="517.9" font-size="3.8" fill="#777" text-anchor="start" textLength="7" lengthAdjust="spacingAndGlyphs" >0.1</text>
<line x1="371.10" y1="426.80" x2="371.10" y2="528.90" stroke="#333" stroke-width="1.3" />
<line x1="371.10" y1="426.80" x2="373.30" y2="425.80" stroke="#333" stroke-width="1.1" />
<path d="M371.1,425.8 L373.7,426.8 L371.1,427.8 Z" fill="#333"/>
<text x="374.6" y="428.3" font-size="3.8" fill="#777" text-anchor="start" textLength="7" lengthAdjust="spacingAndGlyphs" >0.8</text>
<path d="M371.1,438.6 L373.7,439.6 L371.1,440.6 Z" fill="#333"/>
<text x="374.6" y="441.1" font-size="3.8" fill="#777" text-anchor="start" textLength="7" lengthAdjust="spacingAndGlyphs" >0.7</text>
<path d="M371.1,451.4 L373.7,452.4 L371.1,453.4 Z" fill="#333"/>
<text x="374.6" y="453.90000000000003" font-size="3.8" fill="#777" text-anchor="start" textLength="7" lengthAdjust="spacingAndGlyphs" >0.6</text>
<path d="M371.1,464.2 L373.7,465.2 L371.1,466.2 Z" fill="#333"/>
<text x="374.6" y="466.70000000000005" font-size="3.8" fill="#777" text-anchor="start" textLength="7" lengthAdjust="spacingAndGlyphs" >0.5</text>
<path d="M371.1,477.0 L373.7,478.0 L371.1,479.0 Z" fill="#333"/>
<text x="374.6" y="479.5" font-size="3.8" fill="#777" text-anchor="start" textLength="7" lengthAdjust="spacingAndGlyphs" >0.4</text>
<path d="M371.1,489.8 L373.7,490.8 L371.1,491.8 Z" fill="#333"/>
<text x="374.6" y="492.3" font-size="3.8" fill="#777" text-anchor="start" textLength="7" lengthAdjust="spacingAndGlyphs" >0.3</text>
<path d="M371.1,502.6 L373.7,503.6 L371.1,504.6 Z" fill="#333"/>
<text x="374.6" y="505.1" font-size="3.8" fill="#777" text-anchor="start" textLength="7" lengthAdjust="spacingAndGlyphs" >0.2</text>
<path d="M371.1,515.4 L373.7,516.4 L371.1,517.4 Z" fill="#333"/>
<text x="374.6" y="517.9" font-size="3.8" fill="#777" text-anchor="start" textLength="7" lengthAdjust="spacingAndGlyphs" >0.1</text>
<line x1="387.60" y1="487.70" x2="387.60" y2="528.90" stroke="#333" stroke-width="1.3" />
<line x1="387.60" y1="487.70" x2="389.80" y2="486.70" stroke="#333" stroke-width="1.1" />
<path d="M387.6,486.7 L390.2,487.7 L387.6,488.7 Z" fill="#333"/>
<text x="391.1" y="489.2" font-size="3.8" fill="#777" text-anchor="start" textLength="7" lengthAdjust="spacingAndGlyphs" >0.8</text>
<path d="M387.6,493.6 L390.2,494.6 L387.6,495.6 Z" fill="#333"/>
<text x="391.1" y="496.09999999999997" font-size="3.8" fill="#777" text-anchor="start" textLength="7" lengthAdjust="spacingAndGlyphs" >0.7</text>
<path d="M387.6,500.5 L390.2,501.5 L387.6,502.5 Z" fill="#333"/>
<text x="391.1" y="503.0" font-size="3.8" fill="#777" text-anchor="start" textLength="7" lengthAdjust="spacingAndGlyphs" >0.6</text>
<path d="M387.6,507.4 L390.2,508.4 L387.6,509.4 Z" fill="#333"/>
<text x="391.1" y="509.9" font-size="3.8" fill="#777" text-anchor="start" textLength="7" lengthAdjust="spacingAndGlyphs" >0.5</text>
<path d="M387.6,514.3 L390.2,515.3 L387.6,516.3 Z" fill="#333"/>
<text x="391.1" y="516.8" font-size="3.8" fill="#777" text-anchor="start" textLength="7" lengthAdjust="spacingAndGlyphs" >0.4</text>
<path d="M387.6,521.2 L390.2,522.2 L387.6,523.2 Z" fill="#333"/>
<text x="391.1" y="523.7" font-size="3.8" fill="#777" text-anchor="start" textLength="7" lengthAdjust="spacingAndGlyphs" >0.3</text>
<line x1="404.40" y1="467.40" x2="404.40" y2="528.90" stroke="#333" stroke-width="1.3" />
<line x1="404.40" y1="467.40" x2="406.60" y2="466.40" stroke="#333" stroke-width="1.1" />
<path d="M404.4,466.4 L407.0,467.4 L404.4,468.4 Z" fill="#333"/>
<text x="407.9" y="468.9" font-size="3.8" fill="#777" text-anchor="start" textLength="7" lengthAdjust="spacingAndGlyphs" >0.8</text>
<path d="M404.4,473.2 L407.0,474.2 L404.4,475.2 Z" fill="#333"/>
<text x="407.9" y="475.7" font-size="3.8" fill="#777" text-anchor="start" textLength="7" lengthAdjust="spacingAndGlyphs" >0.7</text>
<path d="M404.4,480.0 L407.0,481.0 L404.4,482.0 Z" fill="#333"/>
<text x="407.9" y="482.5" font-size="3.8" fill="#777" text-anchor="start" textLength="7" lengthAdjust="spacingAndGlyphs" >0.6</text>
<path d="M404.4,486.8 L407.0,487.8 L404.4,488.8 Z" fill="#333"/>
<text x="407.9" y="489.29999999999995" font-size="3.8" fill="#777" text-anchor="start" textLength="7" lengthAdjust="spacingAndGlyphs" >0.5</text>
<path d="M404.4,493.6 L407.0,494.6 L404.4,495.6 Z" fill="#333"/>
<text x="407.9" y="496.09999999999997" font-size="3.8" fill="#777" text-anchor="start" textLength="7" lengthAdjust="spacingAndGlyphs" >0.4</text>
<path d="M404.4,500.4 L407.0,501.4 L404.4,502.4 Z" fill="#333"/>
<text x="407.9" y="502.9" font-size="3.8" fill="#777" text-anchor="start" textLength="7" lengthAdjust="spacingAndGlyphs" >0.3</text>
<path d="M404.4,507.2 L407.0,508.2 L404.4,509.2 Z" fill="#333"/>
<text x="407.9" y="509.7" font-size="3.8" fill="#777" text-anchor="start" textLength="7" lengthAdjust="spacingAndGlyphs" >0.2</text>
<path d="M404.4,514.0 L407.0,515.0 L404.4,516.0 Z" fill="#333"/>
<text x="407.9" y="516.5" font-size="3.8" fill="#777" text-anchor="start" textLength="7" lengthAdjust="spacingAndGlyphs" >0.1</text>
<path d="M404.4,520.8 L407.0,521.8 L404.4,522.8 Z" fill="#333"/>
<text x="407.9" y="523.3" font-size="3.8" fill="#777" text-anchor="start" textLength="7" lengthAdjust="spacingAndGlyphs" >0.8</text>
<text x="326.7" y="454.9" font-size="3.6" fill="#888" text-anchor="middle" textLength="26" lengthAdjust="spacingAndGlyphs" >cm * ~  cm * ~</text>
<text x="362.2" y="423.8" font-size="3.6" fill="#888" text-anchor="middle" textLength="30" lengthAdjust="spacingAndGlyphs" >~ * * L~/~ * ~</text>
<text x="383.6" y="484.7" font-size="3.6" fill="#888" text-anchor="middle" textLength="9" lengthAdjust="spacingAndGlyphs" >~ * *</text>
<text x="407.4" y="464.4" font-size="3.6" fill="#888" text-anchor="middle" textLength="9" lengthAdjust="spacingAndGlyphs" >~ * *</text>
<text x="313.7" y="527.9" font-size="5" fill="#666" text-anchor="start" font-style="italic" >0</text>
<line x1="319.70" y1="528.90" x2="569.70" y2="528.90" stroke="#333" stroke-width="1.4" />
<line x1="447.90" y1="469.50" x2="447.90" y2="528.90" stroke="#333" stroke-width="1.0" />
<line x1="453.10" y1="461.60" x2="453.10" y2="528.90" stroke="#333" stroke-width="1.0" />
<line x1="459.50" y1="463.70" x2="459.50" y2="528.90" stroke="#333" stroke-width="1.0" />
<line x1="465.90" y1="463.70" x2="465.90" y2="528.90" stroke="#333" stroke-width="1.0" />
<line x1="472.60" y1="458.78" x2="472.60" y2="528.90" stroke="#333" stroke-width="1.0" />
<line x1="479.80" y1="453.50" x2="479.80" y2="528.90" stroke="#333" stroke-width="1.0" />
<line x1="487.10" y1="449.58" x2="487.10" y2="528.90" stroke="#333" stroke-width="1.0" />
<line x1="494.90" y1="445.40" x2="494.90" y2="528.90" stroke="#333" stroke-width="1.0" />
<line x1="503.00" y1="444.80" x2="503.00" y2="528.90" stroke="#333" stroke-width="1.0" />
<line x1="512.30" y1="449.20" x2="512.30" y2="528.90" stroke="#333" stroke-width="1.0" />
<line x1="522.70" y1="453.50" x2="522.70" y2="528.90" stroke="#333" stroke-width="1.0" />
<line x1="533.50" y1="457.90" x2="533.50" y2="528.90" stroke="#333" stroke-width="1.0" />
<line x1="545.10" y1="459.91" x2="545.10" y2="528.90" stroke="#333" stroke-width="1.0" />
<line x1="556.70" y1="461.60" x2="556.70" y2="528.90" stroke="#333" stroke-width="1.0" />
<line x1="569.70" y1="462.20" x2="569.70" y2="528.90" stroke="#333" stroke-width="1.0" />
<path d="M447.9,469.5 C448.8,468.2 451.2,462.6 453.1,461.6 C455.0,460.6 457.4,463.4 459.5,463.7 C461.6,464.0 462.5,465.4 465.9,463.7 C469.3,462.0 475.0,456.6 479.8,453.5 C484.6,450.4 491.0,446.8 494.9,445.4 C498.8,443.9 500.1,444.2 503.0,444.8 C505.9,445.4 509.0,447.8 512.3,449.2 C515.6,450.6 519.2,452.1 522.7,453.5 C526.2,454.9 529.8,456.8 533.5,457.9 C537.2,459.0 541.1,459.3 545.0,459.9 C548.9,460.5 552.6,461.2 556.7,461.6 C560.8,462.0 567.5,462.1 569.7,462.2" stroke="#1f8bff" stroke-width="1.6" fill="none" />
<path d="M447.9,472.4 C449.8,471.7 455.4,468.0 459.5,468.0 C463.6,468.0 468.0,473.1 472.6,472.4 C477.2,471.7 482.5,465.9 487.1,463.7 C491.7,461.5 495.9,459.6 500.1,459.3 C504.3,459.0 506.7,460.4 512.3,461.6 C517.9,462.8 526.1,465.1 533.5,466.6 C540.9,468.2 550.7,470.2 556.7,470.9 C562.7,471.6 567.5,470.9 569.7,470.9" stroke="#1f8bff" stroke-width="1.6" fill="none" />
<path d="M447.9,476.7 C449.8,476.5 455.4,475.5 459.5,475.3 C463.6,475.1 468.0,475.3 472.6,475.3 C477.2,475.3 482.0,476.3 487.1,475.3 C492.2,474.3 497.1,469.8 503.0,469.5 C508.9,469.2 515.7,472.7 522.7,473.8 C529.7,474.9 537.2,475.7 545.0,476.1 C552.8,476.5 565.6,476.1 569.7,476.1" stroke="#1f8bff" stroke-width="1.6" fill="none" />
<path d="M447.9,479.6 C450.3,480.3 457.1,484.5 462.4,484.0 C467.7,483.5 473.0,477.2 479.8,476.7 C486.6,476.2 495.9,480.9 503.0,481.1 C510.1,481.4 515.7,478.8 522.7,478.2 C529.7,477.6 537.2,477.6 545.0,477.3 C552.8,477.1 565.6,476.8 569.7,476.7" stroke="#1f8bff" stroke-width="1.6" fill="none" />
<path d="M447.9,488.3 C448.9,489.3 449.6,493.1 453.7,494.1 C457.8,495.1 464.4,494.0 472.6,494.1 C480.8,494.2 492.9,494.9 503.0,494.7 C513.1,494.5 522.4,493.3 533.5,492.7 C544.6,492.1 563.7,491.4 569.7,491.2" stroke="#1f8bff" stroke-width="1.6" fill="none" />
<path d="M447.9,513.0 C448.9,513.2 449.6,515.1 453.7,514.4 C457.8,513.7 465.7,511.0 472.6,508.6 C479.5,506.2 488.3,503.3 494.9,499.9 C501.5,496.5 505.9,494.1 512.3,488.3 C518.7,482.5 526.1,472.8 533.5,465.1 C540.9,457.4 550.7,448.1 556.7,441.9 C562.7,435.7 567.5,430.3 569.7,428.0" stroke="#1f8bff" stroke-width="1.6" fill="none" />
<text x="557" y="429" font-size="4" fill="#666" text-anchor="start" textLength="5.2" lengthAdjust="spacingAndGlyphs" >w1</text>
<text x="571.5" y="463.5" font-size="4" fill="#666" text-anchor="start" textLength="2.6" lengthAdjust="spacingAndGlyphs" >c</text>
<text x="571.5" y="472" font-size="4" fill="#666" text-anchor="start" textLength="7.800000000000001" lengthAdjust="spacingAndGlyphs" >c1u</text>
<text x="571.5" y="477.5" font-size="4" fill="#666" text-anchor="start" textLength="7.800000000000001" lengthAdjust="spacingAndGlyphs" >c2u</text>
<text x="571.5" y="492.5" font-size="4" fill="#666" text-anchor="start" textLength="10.4" lengthAdjust="spacingAndGlyphs" >c1 2</text>
<line x1="42.00" y1="586.50" x2="42.00" y2="657.80" stroke="#333" stroke-width="1.3" />
<line x1="42.00" y1="586.50" x2="44.20" y2="585.50" stroke="#333" stroke-width="1.1" />
<path d="M42.0,585.5 L44.6,586.5 L42.0,587.5 Z" fill="#333"/>
<text x="45.5" y="588.0" font-size="3.8" fill="#777" text-anchor="start" textLength="7" lengthAdjust="spacingAndGlyphs" >0.8</text>
<path d="M42.0,595.7 L44.6,596.7 L42.0,597.7 Z" fill="#333"/>
<text x="45.5" y="598.2" font-size="3.8" fill="#777" text-anchor="start" textLength="7" lengthAdjust="spacingAndGlyphs" >0.7</text>
<path d="M42.0,605.9 L44.6,606.9 L42.0,607.9 Z" fill="#333"/>
<text x="45.5" y="608.4" font-size="3.8" fill="#777" text-anchor="start" textLength="7" lengthAdjust="spacingAndGlyphs" >0.6</text>
<path d="M42.0,616.1 L44.6,617.1 L42.0,618.1 Z" fill="#333"/>
<text x="45.5" y="618.6" font-size="3.8" fill="#777" text-anchor="start" textLength="7" lengthAdjust="spacingAndGlyphs" >0.5</text>
<path d="M42.0,626.3 L44.6,627.3 L42.0,628.3 Z" fill="#333"/>
<text x="45.5" y="628.8" font-size="3.8" fill="#777" text-anchor="start" textLength="7" lengthAdjust="spacingAndGlyphs" >0.4</text>
<path d="M42.0,636.5 L44.6,637.5 L42.0,638.5 Z" fill="#333"/>
<text x="45.5" y="639.0" font-size="3.8" fill="#777" text-anchor="start" textLength="7" lengthAdjust="spacingAndGlyphs" >0.3</text>
<path d="M42.0,646.7 L44.6,647.7 L42.0,648.7 Z" fill="#333"/>
<text x="45.5" y="649.2" font-size="3.8" fill="#777" text-anchor="start" textLength="7" lengthAdjust="spacingAndGlyphs" >0.2</text>
<line x1="59.40" y1="586.50" x2="59.40" y2="657.80" stroke="#333" stroke-width="1.3" />
<line x1="59.40" y1="586.50" x2="61.60" y2="585.50" stroke="#333" stroke-width="1.1" />
<path d="M59.4,585.5 L62.0,586.5 L59.4,587.5 Z" fill="#333"/>
<text x="62.9" y="588.0" font-size="3.8" fill="#777" text-anchor="start" textLength="7" lengthAdjust="spacingAndGlyphs" >0.8</text>
<path d="M59.4,595.7 L62.0,596.7 L59.4,597.7 Z" fill="#333"/>
<text x="62.9" y="598.2" font-size="3.8" fill="#777" text-anchor="start" textLength="7" lengthAdjust="spacingAndGlyphs" >0.7</text>
<path d="M59.4,605.9 L62.0,606.9 L59.4,607.9 Z" fill="#333"/>
<text x="62.9" y="608.4" font-size="3.8" fill="#777" text-anchor="start" textLength="7" lengthAdjust="spacingAndGlyphs" >0.6</text>
<path d="M59.4,616.1 L62.0,617.1 L59.4,618.1 Z" fill="#333"/>
<text x="62.9" y="618.6" font-size="3.8" fill="#777" text-anchor="start" textLength="7" lengthAdjust="spacingAndGlyphs" >0.5</text>
<path d="M59.4,626.3 L62.0,627.3 L59.4,628.3 Z" fill="#333"/>
<text x="62.9" y="628.8" font-size="3.8" fill="#777" text-anchor="start" textLength="7" lengthAdjust="spacingAndGlyphs" >0.4</text>
<path d="M59.4,636.5 L62.0,637.5 L59.4,638.5 Z" fill="#333"/>
<text x="62.9" y="639.0" font-size="3.8" fill="#777" text-anchor="start" textLength="7" lengthAdjust="spacingAndGlyphs" >0.3</text>
<path d="M59.4,646.7 L62.0,647.7 L59.4,648.7 Z" fill="#333"/>
<text x="62.9" y="649.2" font-size="3.8" fill="#777" text-anchor="start" textLength="7" lengthAdjust="spacingAndGlyphs" >0.2</text>
<line x1="75.90" y1="556.50" x2="75.90" y2="657.80" stroke="#333" stroke-width="1.3" />
<line x1="75.90" y1="556.50" x2="78.10" y2="555.50" stroke="#333" stroke-width="1.1" />
<path d="M75.9,555.5 L78.5,556.5 L75.9,557.5 Z" fill="#333"/>
<text x="79.4" y="558.0" font-size="3.8" fill="#777" text-anchor="start" textLength="7" lengthAdjust="spacingAndGlyphs" >0.8</text>
<path d="M75.9,568.3 L78.5,569.3 L75.9,570.3 Z" fill="#333"/>
<text x="79.4" y="570.8" font-size="3.8" fill="#777" text-anchor="start" textLength="7" lengthAdjust="spacingAndGlyphs" >0.7</text>
<path d="M75.9,581.1 L78.5,582.1 L75.9,583.1 Z" fill="#333"/>
<text x="79.4" y="583.6" font-size="3.8" fill="#777" text-anchor="start" textLength="7" lengthAdjust="spacingAndGlyphs" >0.6</text>
<path d="M75.9,593.9 L78.5,594.9 L75.9,595.9 Z" fill="#333"/>
<text x="79.4" y="596.4" font-size="3.8" fill="#777" text-anchor="start" textLength="7" lengthAdjust="spacingAndGlyphs" >0.5</text>
<path d="M75.9,606.7 L78.5,607.7 L75.9,608.7 Z" fill="#333"/>
<text x="79.4" y="609.2" font-size="3.8" fill="#777" text-anchor="start" textLength="7" lengthAdjust="spacingAndGlyphs" >0.4</text>
<path d="M75.9,619.5 L78.5,620.5 L75.9,621.5 Z" fill="#333"/>
<text x="79.4" y="622.0" font-size="3.8" fill="#777" text-anchor="start" textLength="7" lengthAdjust="spacingAndGlyphs" >0.3</text>
<path d="M75.9,632.3 L78.5,633.3 L75.9,634.3 Z" fill="#333"/>
<text x="79.4" y="634.8" font-size="3.8" fill="#777" text-anchor="start" textLength="7" lengthAdjust="spacingAndGlyphs" >0.2</text>
<path d="M75.9,645.1 L78.5,646.1 L75.9,647.1 Z" fill="#333"/>
<text x="79.4" y="647.6" font-size="3.8" fill="#777" text-anchor="start" textLength="7" lengthAdjust="spacingAndGlyphs" >0.1</text>
<line x1="93.00" y1="556.50" x2="93.00" y2="657.80" stroke="#333" stroke-width="1.3" />
<line x1="93.00" y1="556.50" x2="95.20" y2="555.50" stroke="#333" stroke-width="1.1" />
<path d="M93.0,555.5 L95.6,556.5 L93.0,557.5 Z" fill="#333"/>
<text x="96.5" y="558.0" font-size="3.8" fill="#777" text-anchor="start" textLength="7" lengthAdjust="spacingAndGlyphs" >0.8</text>
<path d="M93.0,568.3 L95.6,569.3 L93.0,570.3 Z" fill="#333"/>
<text x="96.5" y="570.8" font-size="3.8" fill="#777" text-anchor="start" textLength="7" lengthAdjust="spacingAndGlyphs" >0.7</text>
<path d="M93.0,581.1 L95.6,582.1 L93.0,583.1 Z" fill="#333"/>
<text x="96.5" y="583.6" font-size="3.8" fill="#777" text-anchor="start" textLength="7" lengthAdjust="spacingAndGlyphs" >0.6</text>
<path d="M93.0,593.9 L95.6,594.9 L93.0,595.9 Z" fill="#333"/>
<text x="96.5" y="596.4" font-size="3.8" fill="#777" text-anchor="start" textLength="7" lengthAdjust="spacingAndGlyphs" >0.5</text>
<path d="M93.0,606.7 L95.6,607.7 L93.0,608.7 Z" fill="#333"/>
<text x="96.5" y="609.2" font-size="3.8" fill="#777" text-anchor="start" textLength="7" lengthAdjust="spacingAndGlyphs" >0.4</text>
<path d="M93.0,619.5 L95.6,620.5 L93.0,621.5 Z" fill="#333"/>
<text x="96.5" y="622.0" font-size="3.8" fill="#777" text-anchor="start" textLength="7" lengthAdjust="spacingAndGlyphs" >0.3</text>
<path d="M93.0,632.3 L95.6,633.3 L93.0,634.3 Z" fill="#333"/>
<text x="96.5" y="634.8" font-size="3.8" fill="#777" text-anchor="start" textLength="7" lengthAdjust="spacingAndGlyphs" >0.2</text>
<path d="M93.0,645.1 L95.6,646.1 L93.0,647.1 Z" fill="#333"/>
<text x="96.5" y="647.6" font-size="3.8" fill="#777" text-anchor="start" textLength="7" lengthAdjust="spacingAndGlyphs" >0.1</text>
<line x1="109.50" y1="617.40" x2="109.50" y2="657.80" stroke="#333" stroke-width="1.3" />
<line x1="109.50" y1="617.40" x2="111.70" y2="616.40" stroke="#333" stroke-width="1.1" />
<path d="M109.5,616.4 L112.1,617.4 L109.5,618.4 Z" fill="#333"/>
<text x="113.0" y="618.9" font-size="3.8" fill="#777" text-anchor="start" textLength="7" lengthAdjust="spacingAndGlyphs" >0.8</text>
<path d="M109.5,623.3 L112.1,624.3 L109.5,625.3 Z" fill="#333"/>
<text x="113.0" y="625.8" font-size="3.8" fill="#777" text-anchor="start" textLength="7" lengthAdjust="spacingAndGlyphs" >0.7</text>
<path d="M109.5,630.2 L112.1,631.2 L109.5,632.2 Z" fill="#333"/>
<text x="113.0" y="632.6999999999999" font-size="3.8" fill="#777" text-anchor="start" textLength="7" lengthAdjust="spacingAndGlyphs" >0.6</text>
<path d="M109.5,637.1 L112.1,638.1 L109.5,639.1 Z" fill="#333"/>
<text x="113.0" y="639.6" font-size="3.8" fill="#777" text-anchor="start" textLength="7" lengthAdjust="spacingAndGlyphs" >0.5</text>
<path d="M109.5,644.0 L112.1,645.0 L109.5,646.0 Z" fill="#333"/>
<text x="113.0" y="646.5" font-size="3.8" fill="#777" text-anchor="start" textLength="7" lengthAdjust="spacingAndGlyphs" >0.4</text>
<path d="M109.5,650.9 L112.1,651.9 L109.5,652.9 Z" fill="#333"/>
<text x="113.0" y="653.4" font-size="3.8" fill="#777" text-anchor="start" textLength="7" lengthAdjust="spacingAndGlyphs" >0.3</text>
<line x1="126.60" y1="597.00" x2="126.60" y2="657.80" stroke="#333" stroke-width="1.3" />
<line x1="126.60" y1="597.00" x2="128.80" y2="596.00" stroke="#333" stroke-width="1.1" />
<path d="M126.6,596.0 L129.2,597.0 L126.6,598.0 Z" fill="#333"/>
<text x="130.1" y="598.5" font-size="3.8" fill="#777" text-anchor="start" textLength="7" lengthAdjust="spacingAndGlyphs" >0.8</text>
<path d="M126.6,602.8 L129.2,603.8 L126.6,604.8 Z" fill="#333"/>
<text x="130.1" y="605.3" font-size="3.8" fill="#777" text-anchor="start" textLength="7" lengthAdjust="spacingAndGlyphs" >0.7</text>
<path d="M126.6,609.6 L129.2,610.6 L126.6,611.6 Z" fill="#333"/>
<text x="130.1" y="612.1" font-size="3.8" fill="#777" text-anchor="start" textLength="7" lengthAdjust="spacingAndGlyphs" >0.6</text>
<path d="M126.6,616.4 L129.2,617.4 L126.6,618.4 Z" fill="#333"/>
<text x="130.1" y="618.9" font-size="3.8" fill="#777" text-anchor="start" textLength="7" lengthAdjust="spacingAndGlyphs" >0.5</text>
<path d="M126.6,623.2 L129.2,624.2 L126.6,625.2 Z" fill="#333"/>
<text x="130.1" y="625.7" font-size="3.8" fill="#777" text-anchor="start" textLength="7" lengthAdjust="spacingAndGlyphs" >0.4</text>
<path d="M126.6,630.0 L129.2,631.0 L126.6,632.0 Z" fill="#333"/>
<text x="130.1" y="632.5" font-size="3.8" fill="#777" text-anchor="start" textLength="7" lengthAdjust="spacingAndGlyphs" >0.3</text>
<path d="M126.6,636.8 L129.2,637.8 L126.6,638.8 Z" fill="#333"/>
<text x="130.1" y="639.3" font-size="3.8" fill="#777" text-anchor="start" textLength="7" lengthAdjust="spacingAndGlyphs" >0.2</text>
<path d="M126.6,643.6 L129.2,644.6 L126.6,645.6 Z" fill="#333"/>
<text x="130.1" y="646.1" font-size="3.8" fill="#777" text-anchor="start" textLength="7" lengthAdjust="spacingAndGlyphs" >0.1</text>
<path d="M126.6,650.4 L129.2,651.4 L126.6,652.4 Z" fill="#333"/>
<text x="130.1" y="652.9" font-size="3.8" fill="#777" text-anchor="start" textLength="7" lengthAdjust="spacingAndGlyphs" >0.8</text>
<text x="49" y="583.5" font-size="3.6" fill="#888" text-anchor="middle" textLength="26" lengthAdjust="spacingAndGlyphs" >cm * ~  cm * ~</text>
<text x="83.9" y="553.5" font-size="3.6" fill="#888" text-anchor="middle" textLength="30" lengthAdjust="spacingAndGlyphs" >~ * * L~/~ * ~</text>
<text x="105.5" y="614.4" font-size="3.6" fill="#888" text-anchor="middle" textLength="9" lengthAdjust="spacingAndGlyphs" >~ * *</text>
<text x="129.6" y="594" font-size="3.6" fill="#888" text-anchor="middle" textLength="9" lengthAdjust="spacingAndGlyphs" >~ * *</text>
<text x="36" y="656.8" font-size="5" fill="#666" text-anchor="start" font-style="italic" >0</text>
<line x1="42.00" y1="657.80" x2="311.00" y2="657.80" stroke="#333" stroke-width="1.4" />
<line x1="169.60" y1="611.20" x2="169.60" y2="657.80" stroke="#333" stroke-width="1.0" />
<line x1="173.20" y1="607.10" x2="173.20" y2="657.80" stroke="#333" stroke-width="1.0" />
<line x1="180.40" y1="606.30" x2="180.40" y2="657.80" stroke="#333" stroke-width="1.0" />
<line x1="187.30" y1="605.87" x2="187.30" y2="657.80" stroke="#333" stroke-width="1.0" />
<line x1="194.70" y1="605.40" x2="194.70" y2="657.80" stroke="#333" stroke-width="1.0" />
<line x1="202.70" y1="603.00" x2="202.70" y2="657.80" stroke="#333" stroke-width="1.0" />
<line x1="211.00" y1="600.50" x2="211.00" y2="657.80" stroke="#333" stroke-width="1.0" />
<line x1="220.70" y1="596.30" x2="220.70" y2="657.80" stroke="#333" stroke-width="1.0" />
<line x1="231.50" y1="592.20" x2="231.50" y2="657.80" stroke="#333" stroke-width="1.0" />
<line x1="241.90" y1="589.70" x2="241.90" y2="657.80" stroke="#333" stroke-width="1.0" />
<line x1="252.30" y1="588.40" x2="252.30" y2="657.80" stroke="#333" stroke-width="1.0" />
<line x1="262.90" y1="588.00" x2="262.90" y2="657.80" stroke="#333" stroke-width="1.0" />
<line x1="274.20" y1="587.70" x2="274.20" y2="657.80" stroke="#333" stroke-width="1.0" />
<line x1="285.40" y1="588.40" x2="285.40" y2="657.80" stroke="#333" stroke-width="1.0" />
<line x1="297.70" y1="590.00" x2="297.70" y2="657.80" stroke="#333" stroke-width="1.0" />
<line x1="310.90" y1="591.40" x2="310.90" y2="657.80" stroke="#333" stroke-width="1.0" />
<path d="M170.8,598.0 C172.6,597.9 177.0,597.3 181.5,597.2 C186.0,597.1 193.3,596.8 198.0,597.2 C202.7,597.6 205.8,598.4 209.6,599.6 C213.4,600.8 217.0,602.9 220.7,604.6 C224.3,606.3 228.0,608.5 231.5,609.6 C235.0,610.7 238.4,611.1 241.9,611.2 C245.4,611.3 248.8,611.0 252.3,610.4 C255.8,609.8 259.2,608.4 262.9,607.9 C266.5,607.4 270.4,607.4 274.2,607.1 C277.9,606.8 281.5,606.4 285.4,606.3 C289.3,606.2 293.4,606.3 297.7,606.3 C301.9,606.3 308.7,606.3 310.9,606.3" stroke="#1f8bff" stroke-width="1.6" fill="none" />
<path d="M170.8,611.2 C171.2,610.5 171.6,607.9 173.2,607.1 C174.8,606.3 176.8,606.6 180.4,606.3 C184.0,606.0 189.6,606.4 194.7,605.4 C199.8,604.4 206.7,602.0 211.0,600.5 C215.3,599.0 217.3,597.7 220.7,596.3 C224.1,594.9 228.0,593.3 231.5,592.2 C235.0,591.1 238.4,590.3 241.9,589.7 C245.4,589.1 248.8,588.7 252.3,588.4 C255.8,588.1 259.2,588.1 262.9,588.0 C266.5,587.9 270.4,587.6 274.2,587.7 C277.9,587.8 281.5,588.0 285.4,588.4 C289.3,588.8 293.4,589.5 297.7,590.0 C301.9,590.5 308.7,591.2 310.9,591.4" stroke="#1f8bff" stroke-width="1.6" fill="none" />
<path d="M170.8,612.0 C171.2,611.5 170.4,609.1 173.2,608.7 C175.9,608.3 182.4,609.9 187.3,609.6 C192.2,609.3 197.1,609.2 202.7,607.1 C208.3,605.0 215.9,599.6 220.7,597.2 C225.5,594.9 228.0,594.2 231.5,593.0 C235.0,591.8 238.4,590.0 241.9,589.7 C245.4,589.4 248.8,590.6 252.3,591.4 C255.8,592.2 259.2,593.7 262.9,594.7 C266.5,595.7 270.4,596.5 274.2,597.2 C277.9,597.9 281.5,598.3 285.4,598.8 C289.3,599.3 293.4,599.6 297.7,600.0 C301.9,600.4 308.7,601.1 310.9,601.3" stroke="#1f8bff" stroke-width="1.6" fill="none" />
<path d="M170.8,612.9 C172.4,612.8 176.4,612.0 180.4,612.0 C184.4,612.0 189.6,613.4 194.7,612.9 C199.8,612.4 204.9,610.8 211.0,608.7 C217.1,606.6 226.3,602.1 231.5,600.5 C236.7,598.9 238.4,598.9 241.9,598.8 C245.4,598.6 248.8,599.0 252.3,599.6 C255.8,600.2 259.2,601.5 262.9,602.1 C266.5,602.7 270.4,602.6 274.2,603.0 C277.9,603.4 281.5,604.2 285.4,604.6 C289.3,605.0 293.4,605.3 297.7,605.4 C301.9,605.5 308.7,605.4 310.9,605.4" stroke="#1f8bff" stroke-width="1.6" fill="none" />
<path d="M169.6,616.2 C170.2,617.0 169.0,619.9 173.2,621.1 C177.4,622.3 188.4,623.0 194.7,623.6 C201.0,624.2 204.9,624.6 211.0,624.5 C217.1,624.4 224.6,623.2 231.5,622.8 C238.4,622.4 245.2,622.1 252.3,622.0 C259.4,621.9 268.7,622.1 274.2,622.0 C279.7,621.9 279.3,621.3 285.4,621.1 C291.5,620.9 306.6,620.8 310.9,620.8" stroke="#1f8bff" stroke-width="1.6" fill="none" />
<path d="M170.8,648.4 C172.4,648.0 176.4,647.4 180.4,646.0 C184.4,644.6 189.6,642.3 194.7,640.2 C199.8,638.1 204.9,636.2 211.0,633.6 C217.1,631.0 226.3,626.7 231.5,624.5 C236.7,622.3 238.4,622.0 241.9,620.3 C245.4,618.6 248.8,617.1 252.3,614.5 C255.8,611.9 259.2,607.9 262.9,604.6 C266.5,601.3 270.4,598.0 274.2,594.7 C277.9,591.4 281.5,588.6 285.4,584.7 C289.3,580.8 293.4,576.1 297.7,571.5 C301.9,566.9 308.7,559.4 310.9,557.0" stroke="#1f8bff" stroke-width="1.6" fill="none" />
<text x="313" y="558" font-size="4" fill="#666" text-anchor="start" textLength="5.2" lengthAdjust="spacingAndGlyphs" >w1</text>
<text x="313" y="592.5" font-size="4" fill="#666" text-anchor="start" textLength="2.6" lengthAdjust="spacingAndGlyphs" >c</text>
<text x="313" y="602.5" font-size="4" fill="#666" text-anchor="start" textLength="7.800000000000001" lengthAdjust="spacingAndGlyphs" >c1u</text>
<text x="313" y="606.5" font-size="4" fill="#666" text-anchor="start" textLength="7.800000000000001" lengthAdjust="spacingAndGlyphs" >c2u</text>
<text x="313" y="622" font-size="4" fill="#666" text-anchor="start" textLength="10.4" lengthAdjust="spacingAndGlyphs" >c1 2</text>
<g transform="translate(678,457.8) skewX(-8) scale(0.8,1)"><text x="0" y="0" font-size="12.5" fill="#000" font-style="italic" text-anchor="start" textLength="236.8" lengthAdjust="spacing" stroke="#fff" stroke-width="0.2" paint-order="normal">Треугольники скоростей на входе</text></g>
<g transform="translate(411,580.9) skewX(-8) scale(0.8,1)"><text x="0" y="0" font-size="13" fill="#000" font-style="italic" text-anchor="start" textLength="236.2" lengthAdjust="spacing" stroke="#fff" stroke-width="0.2" paint-order="normal">Треугольник скоростей на выходе</text></g>
<line x1="636.20" y1="512.00" x2="784.00" y2="512.00" stroke="#333" stroke-width="1.1" />
<line x1="636.20" y1="512.00" x2="650.30" y2="493.60" stroke="#222" stroke-width="1.1" />
<path d="M650.3,493.6 L648.9,497.6 L646.8,496.0 Z" fill="#111"/>
<line x1="650.30" y1="493.60" x2="650.30" y2="512.00" stroke="#333" stroke-width="1.1" />
<path d="M650.3,493.6 L651.6,497.6 L649.0,497.6 Z" fill="#111"/>
<path d="M650.3,512.0 L646.8,513.0 L646.8,511.0 Z" fill="#111"/>
<line x1="650.30" y1="493.60" x2="784.00" y2="512.00" stroke="#333" stroke-width="1.1" />
<line x1="708.40" y1="492.80" x2="784.00" y2="512.00" stroke="#222" stroke-width="1.2" />
<line x1="717.47" y1="495.10" x2="784.00" y2="512.00" stroke="#1f8bff" stroke-width="1.3" />
<line x1="713.12" y1="493.00" x2="719.52" y2="488.20" stroke="#333" stroke-width="0.9" />
<line x1="722.57" y1="495.40" x2="728.97" y2="490.60" stroke="#333" stroke-width="0.9" />
<line x1="732.02" y1="497.80" x2="738.42" y2="493.00" stroke="#333" stroke-width="0.9" />
<line x1="741.48" y1="500.20" x2="747.88" y2="495.40" stroke="#333" stroke-width="0.9" />
<line x1="750.92" y1="502.60" x2="757.32" y2="497.80" stroke="#333" stroke-width="0.9" />
<line x1="760.38" y1="505.00" x2="766.77" y2="500.20" stroke="#333" stroke-width="0.9" />
<line x1="769.83" y1="507.40" x2="776.23" y2="502.60" stroke="#333" stroke-width="0.9" />
<line x1="779.27" y1="509.80" x2="785.67" y2="505.00" stroke="#333" stroke-width="0.9" />
<path d="M784.0,512.0 L780.0,513.4 L780.0,510.6 Z" fill="#111"/>
<path d="M708.1,493.5 Q706.9,502.75 708.1,512" stroke="#111" stroke-width="1.3" fill="none" />
<path d="M708.1,493.5 L709.1,496.0 L707.1,496.0 Z" fill="#111"/>
<path d="M708.1,512.0 L707.1,509.5 L709.1,509.5 Z" fill="#111"/>
<path d="M742.7,500.5 Q741.5,507.0 742.7,513.5" stroke="#111" stroke-width="1.3" fill="none" />
<path d="M742.7,500.5 L743.7,503.0 L741.7,503.0 Z" fill="#111"/>
<path d="M742.7,513.5 L741.7,511.0 L743.7,511.0 Z" fill="#111"/>
<text x="652.5" y="508.5" font-size="6.5" fill="#444" text-anchor="start" font-style="italic" >c</text>
<text x="626" y="512" font-size="6.5" fill="#444" text-anchor="start" font-style="italic" >α</text>
<text x="634" y="503" font-size="6.5" fill="#444" text-anchor="start" font-style="italic" >v</text>
<text x="678" y="492.5" font-size="6.5" fill="#444" text-anchor="start" font-style="italic" >w</text>
<text x="639.5" y="524" font-size="6.5" fill="#444" text-anchor="start" font-style="italic" >c</text>
<text x="690" y="525" font-size="6.5" fill="#444" text-anchor="start" font-style="italic" >u</text>
<text x="705" y="509.5" font-size="5" fill="#555" text-anchor="start" font-style="italic" textLength="7.5" lengthAdjust="spacingAndGlyphs" transform="rotate(-90 705 509.5)" >45°</text>
<text x="705" y="501.5" font-size="5" fill="#555" text-anchor="start" font-style="italic" textLength="7.5" lengthAdjust="spacingAndGlyphs" transform="rotate(-90 705 501.5)" >63°</text>
<path d="M745.0,499.0 L756.0,490.2 L774.0,490.2" stroke="#333" stroke-width="0.9" fill="none" />
<text x="762" y="488.5" font-size="6.5" fill="#444" text-anchor="middle" font-style="italic" textLength="15" lengthAdjust="spacingAndGlyphs" >δ°34'</text>
<line x1="824.30" y1="512.20" x2="948.80" y2="512.20" stroke="#333" stroke-width="1.1" />
<line x1="824.30" y1="512.20" x2="836.30" y2="490.80" stroke="#222" stroke-width="1.1" />
<path d="M836.3,490.8 L835.5,494.9 L833.2,493.7 Z" fill="#111"/>
<line x1="836.30" y1="490.80" x2="836.30" y2="512.20" stroke="#333" stroke-width="1.1" />
<path d="M836.3,490.8 L837.6,494.8 L835.0,494.8 Z" fill="#111"/>
<path d="M836.3,512.2 L832.8,513.2 L832.8,511.2 Z" fill="#111"/>
<line x1="836.30" y1="490.80" x2="948.80" y2="512.20" stroke="#333" stroke-width="1.1" />
<line x1="897.80" y1="494.80" x2="948.80" y2="512.20" stroke="#222" stroke-width="1.2" />
<line x1="903.92" y1="496.89" x2="948.80" y2="512.20" stroke="#1f8bff" stroke-width="1.3" />
<line x1="900.99" y1="494.89" x2="907.39" y2="490.09" stroke="#333" stroke-width="0.9" />
<line x1="907.36" y1="497.06" x2="913.76" y2="492.26" stroke="#333" stroke-width="0.9" />
<line x1="913.74" y1="499.24" x2="920.14" y2="494.44" stroke="#333" stroke-width="0.9" />
<line x1="920.11" y1="501.41" x2="926.51" y2="496.61" stroke="#333" stroke-width="0.9" />
<line x1="926.49" y1="503.59" x2="932.89" y2="498.79" stroke="#333" stroke-width="0.9" />
<line x1="932.86" y1="505.76" x2="939.26" y2="500.96" stroke="#333" stroke-width="0.9" />
<line x1="939.24" y1="507.94" x2="945.64" y2="503.14" stroke="#333" stroke-width="0.9" />
<line x1="945.61" y1="510.11" x2="952.01" y2="505.31" stroke="#333" stroke-width="0.9" />
<path d="M948.8,512.2 L944.8,513.6 L944.8,510.8 Z" fill="#111"/>
<path d="M904.5,498.3 Q903.3,505.25 904.5,512.2" stroke="#111" stroke-width="1.3" fill="none" />
<path d="M904.5,498.3 L905.5,500.8 L903.5,500.8 Z" fill="#111"/>
<path d="M904.5,512.2 L903.5,509.7 L905.5,509.7 Z" fill="#111"/>
<path d="M921,496 Q919.8,504.1 921,512.2" stroke="#111" stroke-width="1.3" fill="none" />
<path d="M921.0,496.0 L922.0,498.5 L920.0,498.5 Z" fill="#111"/>
<path d="M921.0,512.2 L920.0,509.7 L922.0,509.7 Z" fill="#111"/>
<path d="M921,498 Q928,488 937.5,484.5" stroke="#333" stroke-width="0.9" fill="none" />
<path d="M864.0,482.8 L888.0,482.8 L903.0,503.5" stroke="#333" stroke-width="0.9" fill="none" />
<text x="875" y="480.2" font-size="6.5" fill="#444" text-anchor="middle" font-style="italic" textLength="14" lengthAdjust="spacingAndGlyphs" >18°34'</text>
<text x="926" y="489" font-size="6.5" fill="#444" text-anchor="middle" font-style="italic" textLength="12" lengthAdjust="spacingAndGlyphs" transform="rotate(-55 926 489)" >9°32'</text>
<text x="852.5" y="489.5" font-size="6.5" fill="#444" text-anchor="start" font-style="italic" >w</text>
<text x="822" y="496" font-size="6.5" fill="#444" text-anchor="start" font-style="italic" >v</text>
<text x="839.5" y="509.5" font-size="6.5" fill="#444" text-anchor="start" font-style="italic" >c</text>
<text x="818" y="514" font-size="6.5" fill="#444" text-anchor="start" font-style="italic" >1</text>
<text x="826.5" y="521.5" font-size="6.5" fill="#444" text-anchor="start" font-style="italic" >c</text>
<text x="876" y="521.5" font-size="6.5" fill="#444" text-anchor="start" font-style="italic" >u</text>
<line x1="742.10" y1="585.30" x2="837.00" y2="585.30" stroke="#333" stroke-width="1.1" />
<line x1="742.10" y1="585.30" x2="748.00" y2="560.80" stroke="#222" stroke-width="1.1" />
<path d="M748.0,560.8 L748.3,565.0 L745.8,564.4 Z" fill="#111"/>
<line x1="748.00" y1="560.80" x2="748.00" y2="585.30" stroke="#333" stroke-width="1.1" />
<path d="M748.0,560.8 L749.3,564.8 L746.7,564.8 Z" fill="#111"/>
<path d="M748.0,585.3 L744.5,586.3 L744.5,584.3 Z" fill="#111"/>
<line x1="748.00" y1="560.80" x2="837.00" y2="585.30" stroke="#333" stroke-width="1.1" />
<line x1="792.20" y1="563.40" x2="837.00" y2="585.30" stroke="#222" stroke-width="1.2" />
<line x1="797.58" y1="566.03" x2="837.00" y2="585.30" stroke="#1f8bff" stroke-width="1.3" />
<line x1="795.00" y1="563.77" x2="801.40" y2="558.97" stroke="#333" stroke-width="0.9" />
<line x1="800.60" y1="566.51" x2="807.00" y2="561.71" stroke="#333" stroke-width="0.9" />
<line x1="806.20" y1="569.24" x2="812.60" y2="564.44" stroke="#333" stroke-width="0.9" />
<line x1="811.80" y1="571.98" x2="818.20" y2="567.18" stroke="#333" stroke-width="0.9" />
<line x1="817.40" y1="574.72" x2="823.80" y2="569.92" stroke="#333" stroke-width="0.9" />
<line x1="823.00" y1="577.46" x2="829.40" y2="572.66" stroke="#333" stroke-width="0.9" />
<line x1="828.60" y1="580.19" x2="835.00" y2="575.39" stroke="#333" stroke-width="0.9" />
<line x1="834.20" y1="582.93" x2="840.60" y2="578.13" stroke="#333" stroke-width="0.9" />
<path d="M837.0,585.3 L833.0,586.7 L833.0,583.9 Z" fill="#111"/>
<path d="M788.9,570 Q787.6999999999999,577.65 788.9,585.3" stroke="#111" stroke-width="1.3" fill="none" />
<path d="M788.9,570.0 L789.9,572.5 L787.9,572.5 Z" fill="#111"/>
<path d="M788.9,585.3 L787.9,582.8 L789.9,582.8 Z" fill="#111"/>
<path d="M809,572 Q807.8,578.65 809,585.3" stroke="#111" stroke-width="1.3" fill="none" />
<path d="M809.0,572.0 L810.0,574.5 L808.0,574.5 Z" fill="#111"/>
<path d="M809.0,585.3 L808.0,582.8 L810.0,582.8 Z" fill="#111"/>
<path d="M810,573 Q818,560 828.6,556.3" stroke="#333" stroke-width="0.9" fill="none" />
<text x="813" y="563" font-size="6.5" fill="#444" text-anchor="middle" font-style="italic" textLength="12" lengthAdjust="spacingAndGlyphs" transform="rotate(-55 813 563)" >6°48'</text>
<text x="759.5" y="560.5" font-size="6.5" fill="#444" text-anchor="start" font-style="italic" >w</text>
<text x="735.5" y="575" font-size="6.5" fill="#444" text-anchor="start" font-style="italic" >v</text>
<text x="751" y="581.5" font-size="6.5" fill="#444" text-anchor="start" font-style="italic" >c</text>
<text x="732.3" y="586.8" font-size="6.5" fill="#444" text-anchor="start" font-style="italic" >2</text>
<text x="742" y="597" font-size="6.5" fill="#444" text-anchor="start" font-style="italic" >α</text>
<text x="795.5" y="593.3" font-size="6.5" fill="#444" text-anchor="start" font-style="italic" >u</text>
<text x="786" y="583" font-size="5" fill="#555" text-anchor="start" font-style="italic" textLength="7.5" lengthAdjust="spacingAndGlyphs" transform="rotate(-90 786 583)" >41°</text>
<text x="786" y="575" font-size="5" fill="#555" text-anchor="start" font-style="italic" textLength="7.5" lengthAdjust="spacingAndGlyphs" transform="rotate(-90 786 575)" >43°</text>
<line x1="435.20" y1="627.80" x2="567.20" y2="627.80" stroke="#333" stroke-width="1.1" />
<line x1="435.20" y1="627.80" x2="508.90" y2="611.70" stroke="#333" stroke-width="1.1" />
<path d="M508.9,611.7 L505.3,613.8 L504.7,611.3 Z" fill="#111"/>
<line x1="508.90" y1="611.70" x2="508.90" y2="627.80" stroke="#333" stroke-width="1.1" />
<path d="M505.0,627.8 L508.5,626.8 L508.5,628.8 Z" fill="#111"/>
<line x1="508.90" y1="611.70" x2="567.20" y2="627.80" stroke="#333" stroke-width="1.1" />
<path d="M512.0,612.4 L515.6,612.3 L515.1,614.3 Z" fill="#111"/>
<line x1="531.00" y1="615.00" x2="567.20" y2="627.80" stroke="#1f8bff" stroke-width="1.4" />
<line x1="534.92" y1="616.04" x2="539.72" y2="612.44" stroke="#333" stroke-width="0.9" />
<line x1="540.75" y1="618.12" x2="545.55" y2="614.52" stroke="#333" stroke-width="0.9" />
<line x1="546.58" y1="620.21" x2="551.38" y2="616.61" stroke="#333" stroke-width="0.9" />
<line x1="552.42" y1="622.29" x2="557.22" y2="618.69" stroke="#333" stroke-width="0.9" />
<line x1="558.25" y1="624.38" x2="563.05" y2="620.77" stroke="#333" stroke-width="0.9" />
<line x1="564.08" y1="626.46" x2="568.88" y2="622.86" stroke="#333" stroke-width="0.9" />
<path d="M567.2,627.8 L563.2,629.2 L563.2,626.4 Z" fill="#111"/>
<line x1="537.30" y1="614.00" x2="537.30" y2="636.00" stroke="#222" stroke-width="1.1" />
<path d="M537.3,636.0 L536.3,633.5 L538.3,633.5 Z" fill="#111"/>
<line x1="555.50" y1="621.00" x2="555.50" y2="634.00" stroke="#222" stroke-width="1.1" />
<path d="M555.5,634.0 L554.5,631.5 L556.5,631.5 Z" fill="#111"/>
<path d="M537.0,616.0 L545.0,607.0 L563.0,607.0" stroke="#333" stroke-width="0.9" fill="none" />
<path d="M555.0,622.0 L561.0,615.0 L583.0,615.0" stroke="#333" stroke-width="0.9" fill="none" />
<text x="551" y="605.5" font-size="7" fill="#333" text-anchor="middle" font-style="italic" textLength="9" lengthAdjust="spacingAndGlyphs" >β3</text>
<text x="573" y="613" font-size="6.5" fill="#555" text-anchor="middle" font-style="italic" textLength="9" lengthAdjust="spacingAndGlyphs" >22°</text>
<text x="482" y="611.5" font-size="6.5" fill="#444" text-anchor="start" font-style="italic" >v</text>
<text x="518" y="607" font-size="6.5" fill="#444" text-anchor="start" font-style="italic" >w</text>
<text x="492" y="637" font-size="6.5" fill="#444" text-anchor="start" font-style="italic" >u</text>
<text x="564" y="637" font-size="6.5" fill="#444" text-anchor="start" font-style="italic" >u</text>
</svg></body></html>
